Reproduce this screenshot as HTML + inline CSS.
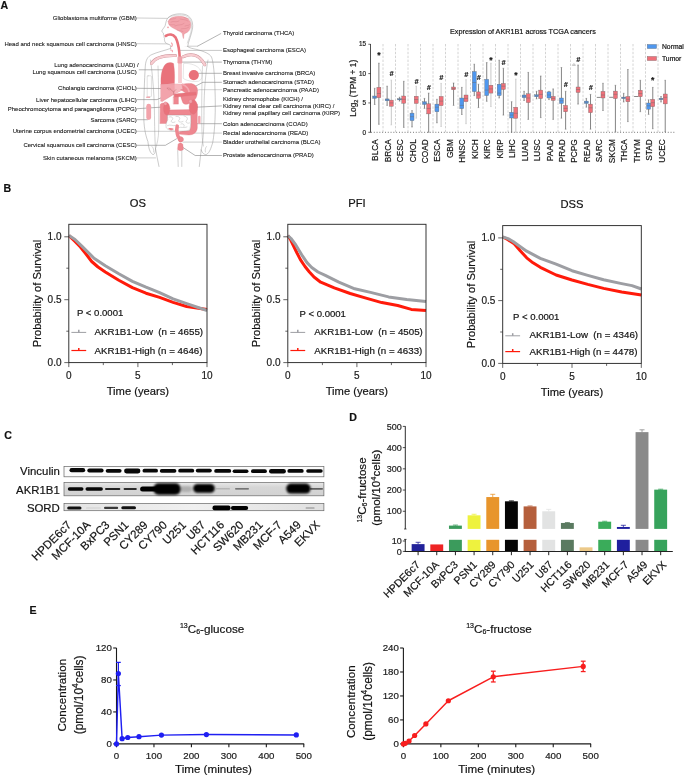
<!DOCTYPE html>
<html><head><meta charset="utf-8"><title>AKR1B1 figure</title>
<style>
html,body{margin:0;padding:0;background:#fff;}
body{width:685px;height:777px;overflow:hidden;}
svg{display:block;font-family:"Liberation Sans", sans-serif;will-change:transform;}
text{stroke:#1a1a1a;stroke-width:0.2px;stroke-linejoin:round;}
g.sm text{stroke-width:0.1px;}
</style></head><body>
<svg width="685" height="777" viewBox="0 0 685 777">
<defs>
<filter id="bl06" x="-20%" y="-50%" width="140%" height="200%"><feGaussianBlur stdDeviation="0.6"/></filter>
<filter id="bl09" x="-20%" y="-50%" width="140%" height="200%"><feGaussianBlur stdDeviation="0.9"/></filter>
<filter id="bl10" x="-20%" y="-50%" width="140%" height="200%"><feGaussianBlur stdDeviation="1.0"/></filter>
<filter id="bl12" x="-20%" y="-50%" width="140%" height="200%"><feGaussianBlur stdDeviation="1.2"/></filter>
<linearGradient id="sordg" x1="0" x2="1" y1="0" y2="0">
<stop offset="0" stop-color="#e4e4e4"/><stop offset="0.5" stop-color="#f0f0f0"/><stop offset="1" stop-color="#e0e0e0"/>
</linearGradient>
<linearGradient id="akrg" x1="0" x2="0" y1="0" y2="1">
<stop offset="0" stop-color="#e8e8e8"/><stop offset="0.35" stop-color="#d6d6d6"/><stop offset="1" stop-color="#d2d2d2"/>
</linearGradient>
</defs>
<rect width="685" height="777" fill="#fff"/>
<g font-weight="bold" fill="#111" font-size="10.6">
<text x="0.5" y="8.8">A</text>
<text x="3.6" y="191.9">B</text>
<text x="4.3" y="438.6">C</text>
<text x="349.2" y="420.6">D</text>
<text x="29.5" y="613.9">E</text>
</g>
<g stroke-linejoin="round" stroke-linecap="round">
<path d="M170.7,48.4 C165,50.5 157,52.2 152,54.5 C147.5,56.5 145.8,60 145.3,66 C144.5,80 143.6,100 143.8,118 C144,130 146.5,138 147.9,141.5 C148.6,147 149.2,152 152.5,154.4 C154.8,155.3 155.6,151 155.5,148.5 C156.5,155 158,161 159,166.5 L199.3,166.5 C200,160 200.8,154 201.2,149.7 C202,153 204.5,155 206.5,154.4 C209.5,153 211,148 212.7,142.7 C215,130 215.8,110 215,90 C214.6,75 213.5,62 211.5,57 C209.5,53.5 204,51.5 197,49.5 C192.5,48.5 189.5,48.2 187.6,46.5 Z" fill="#fff" stroke="none"/>
<polyline points="137.3,18.0 168.5,18.4" fill="none" stroke="#c8c8c8" stroke-width="0.9"/>
<polyline points="137.3,43.7 171.5,43.9" fill="none" stroke="#c8c8c8" stroke-width="0.9"/>
<polyline points="139.2,69.8 168.5,69.8" fill="none" stroke="#5a5a5a" stroke-width="0.45"/>
<polyline points="137.3,88.3 171.5,88.6" fill="none" stroke="#5a5a5a" stroke-width="0.45"/>
<polyline points="137.3,99.6 157.0,99.6 167.2,95.2" fill="none" stroke="#5a5a5a" stroke-width="0.45"/>
<polyline points="137.3,108.7 166.5,106.8" fill="none" stroke="#5a5a5a" stroke-width="0.45"/>
<polyline points="137.3,119.7 147.5,119.7" fill="none" stroke="#5a5a5a" stroke-width="0.45"/>
<polyline points="137.3,131.3 177.0,131.3" fill="none" stroke="#c8c8c8" stroke-width="0.9"/>
<polyline points="137.3,145.3 165.4,145.3 176.5,138.8" fill="none" stroke="#5a5a5a" stroke-width="0.45"/>
<polyline points="137.3,157.9 155.5,157.9" fill="none" stroke="#c8c8c8" stroke-width="0.9"/>
<polyline points="220.8,33.6 197.5,46.2" fill="none" stroke="#5a5a5a" stroke-width="0.45"/>
<polyline points="197.5,46.2 180.0,46.2" fill="none" stroke="#c8c8c8" stroke-width="0.9"/>
<polyline points="221.5,50.4 180.0,50.4" fill="none" stroke="#c8c8c8" stroke-width="1.0"/>
<polyline points="221.5,62.1 182.5,62.1" fill="none" stroke="#5a5a5a" stroke-width="0.45"/>
<polyline points="221.5,73.3 195.5,73.3" fill="none" stroke="#5a5a5a" stroke-width="0.45"/>
<polyline points="221.5,82.3 202.9,82.3 188.5,89.9" fill="none" stroke="#5a5a5a" stroke-width="0.45"/>
<polyline points="221.5,89.7 199.0,89.7 186.0,94.5" fill="none" stroke="#c8c8c8" stroke-width="0.8"/>
<polyline points="221.5,105.9 196.5,107.2" fill="none" stroke="#5a5a5a" stroke-width="0.45"/>
<polyline points="221.5,123.7 195.0,123.7" fill="none" stroke="#5a5a5a" stroke-width="0.45"/>
<polyline points="221.5,133.1 192.5,133.1" fill="none" stroke="#c8c8c8" stroke-width="0.9"/>
<polyline points="221.5,142.1 183.0,142.1" fill="none" stroke="#c8c8c8" stroke-width="0.9"/>
<polyline points="221.5,155.5 195.2,155.5 182.4,147.1" fill="none" stroke="#5a5a5a" stroke-width="0.45"/>
<path d="M170.7,48.4 C165,50.5 157,52.2 152,54.5 C147.5,56.5 145.8,60 145.3,66 C144.5,80 143.6,100 143.8,118 C144,130 146.5,138 147.9,141.5 C148.6,147 149.2,152 152.5,154.4 C154.8,155.3 155.6,151 155.5,148.5 C156.5,155 158,161 159,166.5" fill="none" stroke="#8a8a8a" stroke-width="0.45"/>
<path d="M199.3,166.5 C200,160 200.8,154 201.2,149.7 C202,153 204.5,155 206.5,154.4 C209.5,153 211,148 212.7,142.7 C215,130 215.8,110 215,90 C214.6,75 213.5,62 211.5,57 C209.5,53.5 204,51.5 197,49.5 C192.5,48.5 189.5,48.2 187.6,46.5" fill="none" stroke="#8a8a8a" stroke-width="0.45"/>
<path d="M150.5,60 C152,70 154,90 154.4,110 C154.6,125 154.8,140 155.5,148.5" fill="none" stroke="#8a8a8a" stroke-width="0.4"/>
<path d="M158,66 C158.5,80 158.8,100 158.7,130 C158.6,138 157,144 155.8,148" fill="none" stroke="#8a8a8a" stroke-width="0.35"/>
<path d="M208,60 C206,70 204,90 204,110 C204,125 203.6,140 201.2,149.7" fill="none" stroke="#8a8a8a" stroke-width="0.4"/>
<path d="M202.5,66 C202,80 201.5,100 201.8,125 C202,135 202.5,142 203.4,146" fill="none" stroke="#8a8a8a" stroke-width="0.35"/>
<path d="M152,146.5 C153.5,148 154,150 153.6,152" fill="none" stroke="#8a8a8a" stroke-width="0.35"/>
<path d="M206.5,146.5 C205.2,148 205,150 205.4,152" fill="none" stroke="#8a8a8a" stroke-width="0.35"/>
<path d="M177.7,150.5 L178.2,166.5 M181.8,150.5 L181.8,166.5" fill="none" stroke="#8a8a8a" stroke-width="0.4"/>
<path d="M187.6,46.5 C188.5,41 191.5,35 192.6,28 C193.3,21 190.5,15.5 184,14.2 C178,13.2 171,14.5 168,17.8 C166.2,20 165.8,23 165.2,25.5 C164.5,27.5 162.5,29 161.9,30.8 C161.8,31.8 162.6,32.5 163.4,33.2 C163.2,34.5 163.5,35.3 164.1,35.8 C163.8,36.8 164,37.6 164.5,38.2 C164.2,39.5 164.6,41.5 165.5,42.8 C167,44 169.3,44.2 170.3,45.2 L170.7,48.4" fill="#fff" stroke="#8a8a8a" stroke-width="0.45"/>
<path d="M168.5,17.5 C172,15.3 178,14.6 184,15.3 C189.5,16.5 191.8,21 191.6,27 C191.3,33 189,38 187.3,43" fill="none" stroke="#8a8a8a" stroke-width="0.3"/>
<path d="M168.2,21.5 C168.8,18.5 172.5,16.6 178,16.3 C184,16.1 189,18 190.6,22.5 C191.3,26.5 190.5,30 187.5,32.2 C185.5,33.2 184.5,33.5 184,34.5 L183.6,38.6 C183.1,38.8 182.7,36 182.3,33.5 C180,31 176,29.8 173,28 C170.5,26.5 168,25 168.2,21.5 Z" fill="#f2a3ab" stroke="#d98890" stroke-width="0.3"/>
<path d="M171,22 C174,20.5 176,23 179,21 M175,26 C178,24 181,26 184,23.5 M180,19 C183,20 185,19 188,21 M181,29 C184,28 186,29.5 189,27 M170,19.5 C172,18.5 174,19.5 176,18 M169.5,24.5 C171.5,25.5 173,24 175,25 M185,26 C187,25 188.5,26 190,24.5 M177,30 C179,31 181,30.5 183,31.5 M184,17.5 C185.5,18.5 187,17.8 189,19" fill="none" stroke="#d77e88" stroke-width="0.4"/>
<circle cx="168" cy="27.3" r="0.9" fill="#f2a3ab"/>
<path d="M151.5,63.5 C155,58 163,55.2 175.5,55.6" fill="none" stroke="#c98c93" stroke-width="3.0"/>
<path d="M151.5,63.5 C155,58 163,55.2 175.5,55.6" fill="none" stroke="#f8cdd1" stroke-width="2.3"/>
<path d="M183,56.8 C190,53.5 199,53.5 204.8,64.8" fill="none" stroke="#c98c93" stroke-width="3.0"/>
<path d="M183,56.8 C190,53.5 199,53.5 204.8,64.8" fill="none" stroke="#f8cdd1" stroke-width="2.3"/>
<path d="M184,63.5 C190,63 198,65 201,71 C203,76 202,80 198.5,81.2 C192,82 186,80.5 183.5,78.5 Z" fill="none" stroke="#b8b8b8" stroke-width="0.35"/>
<circle cx="193.8" cy="75.1" r="5.1" fill="#e9727b"/>
<path d="M165.8,35.9 C169,33.6 173,34.3 175.5,37.3 C177.5,41 178.6,46 179.3,52 L180,61" fill="none" stroke="#e9727b" stroke-width="2.6"/>
<rect x="178.1" y="58" width="3.8" height="25" fill="#f8cdd1"/>
<rect x="177.5" y="56.5" width="4.8" height="7" rx="1.2" fill="#f0a2aa"/>
<path d="M171.5,43 C172.5,44 172.8,45.5 171.5,46.5 M170.5,50 C172,49.8 173,50.8 172.3,51.8" fill="none" stroke="#f2a3ab" stroke-width="1.1"/>
<path d="M161,84.5 C160.5,76 161.8,69 165,64.8 C167.5,62.3 171,62 173.6,63.6 C174.6,70 174.8,77 174.4,83.5 Z" fill="#e9727b" stroke="#d9707a" stroke-width="0.3"/>
<path d="M160.8,84.6 C168,84 176,83.8 182.2,84.2 L182.8,89.6 C179.5,91.5 176,93.5 173.2,94.8 C169.5,97 165.5,99.5 162.4,101.4 L160.9,101.2 Z" fill="#f2a3ab" stroke="#d8707a" stroke-width="0.3"/>
<path d="M174.6,84 L182.2,84.2 L182.8,89.6 C180,91.2 177.5,92.5 174.8,93.8 Z" fill="#f6b9bf"/>
<path d="M167.4,88.2 C168.5,87.6 170,88 170.4,89.2 C169.6,90.3 168,90.2 167.4,88.2 Z" fill="#f2a3ab" stroke="#b05a62" stroke-width="0.25"/>
<path d="M170.4,89.2 L173.5,92 L176,89.5 M173.5,92 L173.8,95" fill="none" stroke="#9a4a52" stroke-width="0.3"/>
<path d="M182.2,84.3 C185.5,83.3 189,83.2 191.5,83.6 C194.5,84.3 196.5,86 197.3,88.5 C197.8,91.5 197.5,95 196,98 C194.5,100.8 191,103.2 187.2,104.2 C185,104.6 183.3,103.8 182.7,102.5 C181.8,100 181.2,98 180.6,96.2 L185.7,93.1 L180.6,89.6 L182.8,89.6 Z" fill="#ee8790" stroke="#d8707a" stroke-width="0.3"/>
<path d="M182.5,84.3 C186,86 188.5,88.5 189,91.5" fill="none" stroke="#f4a8b0" stroke-width="1.6"/>
<path d="M174,94.2 C180,93.2 188,92.6 195.9,92.2 L196,95 C188,95.6 181,96.5 174.2,97.4 Z" fill="#e9727b" stroke="#d8707a" stroke-width="0.3"/>
<rect x="173.6" y="96.8" width="4.8" height="7.3" fill="#ee8790" stroke="#d8707a" stroke-width="0.3"/>
<path d="M160.2,105 C160.5,103.5 162,102.8 164.5,103.2 L167.8,104.5 L167.8,123.5 L160.1,123.5 Z" fill="#ee8790" stroke="#d8707a" stroke-width="0.3"/>
<path d="M167.4,110 L192,109.6 L192,115.1 L167.4,115.1 Z" fill="#ee8790" stroke="#d8707a" stroke-width="0.3"/>
<path d="M190.8,104 L197.3,104 L197.3,128 C197,132 194,134.8 189,135 C185,135 181.5,134.5 179.1,134.1 L179.5,130.5 C183,131 187,131.3 189.5,130.6 C190.6,129.5 190.8,127 190.8,124 Z" fill="#ee8790" stroke="#d8707a" stroke-width="0.3"/>
<ellipse cx="166.7" cy="108.8" rx="3.1" ry="6.2" fill="#e9727b" stroke="#d8707a" stroke-width="0.35"/>
<ellipse cx="193.3" cy="107.0" rx="4.2" ry="7.2" fill="#e9727b" stroke="#d8707a" stroke-width="0.35"/>
<circle cx="165.5" cy="103.5" r="1.7" fill="#f2a3ab" stroke="#d8707a" stroke-width="0.3"/>
<circle cx="190.6" cy="101.4" r="1.8" fill="#f2a3ab" stroke="#d8707a" stroke-width="0.3"/>
<path d="M167.6,115.2 C175,115.2 184,115.2 190.6,115.4 C191,120 190.8,125 189.8,130 C186,131 181,131.4 176,131 C171,130.6 167.3,129.8 166.2,127.5 C165.5,125 166.6,122 167.6,120 Z" fill="#fff" stroke="#9a9a9a" stroke-width="0.35"/>
<path d="M169,117 C172,116 174,118.5 172,120 C170,121.5 172,123.5 175,122 M176,116.5 C179,116 181,118 179,120 C177.5,121.5 180,123 183,121.5 M184,116 C187,116.5 188.5,118.5 186.5,120.5 C185,122 187.5,124 189.5,123 M167.5,125.5 C170.5,124 173,126.5 175.5,125.5 M178.5,127.5 C181,126.5 184,128.5 187,127 M181,124 C183,123 185,125 184,126.5" fill="none" stroke="#9a9a9a" stroke-width="0.35"/>
<path d="M168.1,128.4 C170,127.8 172.5,128 174,129 C172.5,130.6 170,130.6 168.1,128.4 Z" fill="#ee8790"/>
<path d="M177.2,126.2 C176.4,129 176.8,132 177.5,134.5 C178,137 179.5,138.5 180.2,140.5" fill="none" stroke="#ee8790" stroke-width="3.6"/>
<path d="M180.5,136.5 C182.8,136.8 184,138.5 183.3,140.5 C182.5,142.3 180,142.5 178.8,141 Z" fill="#ee8790" stroke="#d8707a" stroke-width="0.3"/>
<path d="M178.2,144 C179.5,142.8 181.5,142.8 182.8,144.2 L183.4,149.5 C182,151 179,151 177.6,149.6 Z" fill="#ee8790" stroke="#d8707a" stroke-width="0.3"/>
<rect x="146.3" y="103.8" width="4.8" height="16.2" rx="2.4" fill="#f2a3ab"/>
<rect x="147.2" y="75.8" width="4.2" height="21" rx="0.8" fill="none" stroke="#a8a8a8" stroke-width="0.35"/>
<rect x="146.2" y="96.6" width="3.8" height="1.3" fill="#f2a3ab"/>
<rect x="198.1" y="115.8" width="2.4" height="8.2" rx="1.2" fill="#f2a3ab"/>
</g>
<g class="sm" font-size="6.0" fill="#1a1a1a">
<text x="136.8" y="19.9" text-anchor="end">Glioblastoma multiforme (GBM)</text>
<text x="136.8" y="45.6" text-anchor="end">Head and neck squamous cell carcinoma (HNSC)</text>
<text x="138.6" y="66.8" text-anchor="end">Lung adenocarcinoma (LUAD) /</text>
<text x="136.8" y="74.4" text-anchor="end">Lung squamous cell carcinoma (LUSC)</text>
<text x="136.8" y="90.2" text-anchor="end">Cholangio carcinoma (CHOL)</text>
<text x="136.8" y="101.5" text-anchor="end">Liver hepatocellular carcinoma (LIHC)</text>
<text x="136.8" y="110.6" text-anchor="end">Pheochromocytoma and paraganglioma (PCPG)</text>
<text x="136.8" y="121.6" text-anchor="end">Sarcoma (SARC)</text>
<text x="136.8" y="133.2" text-anchor="end">Uterine corpus endometrial carcinoma (UCEC)</text>
<text x="136.8" y="147.2" text-anchor="end">Cervical squamous cell carcinoma (CESC)</text>
<text x="136.8" y="159.8" text-anchor="end">Skin cutaneous melanoma (SKCM)</text>
<text x="223" y="35.3">Thyroid carcinoma (THCA)</text>
<text x="223" y="52.1">Esophageal carcinoma (ESCA)</text>
<text x="223" y="64.0">Thymoma (THYM)</text>
<text x="223" y="75.2">Breast invasive carcinoma (BRCA)</text>
<text x="223" y="84.2">Stomach adenocarcinoma (STAD)</text>
<text x="223" y="91.6">Pancreatic adenocarcinoma (PAAD)</text>
<text x="223" y="101.0">Kidney chromophobe (KICH) /</text>
<text x="223" y="107.8">Kidney renal clear cell carcinoma (KIRC) /</text>
<text x="223" y="115.4">Kidney renal papillary cell carcinoma (KIRP)</text>
<text x="223" y="125.6">Colon adenocarcinoma (COAD)</text>
<text x="223" y="135.0">Rectal adenocarcinoma (READ)</text>
<text x="223" y="144.0">Bladder urothelial carcinoma (BLCA)</text>
<text x="223" y="157.4">Prostate adenocarcinoma (PRAD)</text>
</g>
<g>
<text x="522.9" y="34.4" font-size="7.25" text-anchor="middle" fill="#111">Expression of AKR1B1 across TCGA cancers</text>
<line x1="383.00" y1="44" x2="383.00" y2="132.3" stroke="#b0b0b0" stroke-width="0.55" stroke-dasharray="2.4,1.5"/>
<line x1="395.50" y1="44" x2="395.50" y2="132.3" stroke="#b0b0b0" stroke-width="0.55" stroke-dasharray="2.4,1.5"/>
<line x1="408.00" y1="44" x2="408.00" y2="132.3" stroke="#b0b0b0" stroke-width="0.55" stroke-dasharray="2.4,1.5"/>
<line x1="420.50" y1="44" x2="420.50" y2="132.3" stroke="#b0b0b0" stroke-width="0.55" stroke-dasharray="2.4,1.5"/>
<line x1="433.00" y1="44" x2="433.00" y2="132.3" stroke="#b0b0b0" stroke-width="0.55" stroke-dasharray="2.4,1.5"/>
<line x1="445.50" y1="44" x2="445.50" y2="132.3" stroke="#b0b0b0" stroke-width="0.55" stroke-dasharray="2.4,1.5"/>
<line x1="458.00" y1="44" x2="458.00" y2="132.3" stroke="#b0b0b0" stroke-width="0.55" stroke-dasharray="2.4,1.5"/>
<line x1="470.50" y1="44" x2="470.50" y2="132.3" stroke="#b0b0b0" stroke-width="0.55" stroke-dasharray="2.4,1.5"/>
<line x1="483.00" y1="44" x2="483.00" y2="132.3" stroke="#b0b0b0" stroke-width="0.55" stroke-dasharray="2.4,1.5"/>
<line x1="495.50" y1="44" x2="495.50" y2="132.3" stroke="#b0b0b0" stroke-width="0.55" stroke-dasharray="2.4,1.5"/>
<line x1="508.00" y1="44" x2="508.00" y2="132.3" stroke="#b0b0b0" stroke-width="0.55" stroke-dasharray="2.4,1.5"/>
<line x1="520.50" y1="44" x2="520.50" y2="132.3" stroke="#b0b0b0" stroke-width="0.55" stroke-dasharray="2.4,1.5"/>
<line x1="533.00" y1="44" x2="533.00" y2="132.3" stroke="#b0b0b0" stroke-width="0.55" stroke-dasharray="2.4,1.5"/>
<line x1="545.50" y1="44" x2="545.50" y2="132.3" stroke="#b0b0b0" stroke-width="0.55" stroke-dasharray="2.4,1.5"/>
<line x1="558.00" y1="44" x2="558.00" y2="132.3" stroke="#b0b0b0" stroke-width="0.55" stroke-dasharray="2.4,1.5"/>
<line x1="570.50" y1="44" x2="570.50" y2="132.3" stroke="#b0b0b0" stroke-width="0.55" stroke-dasharray="2.4,1.5"/>
<line x1="583.00" y1="44" x2="583.00" y2="132.3" stroke="#b0b0b0" stroke-width="0.55" stroke-dasharray="2.4,1.5"/>
<line x1="595.50" y1="44" x2="595.50" y2="132.3" stroke="#b0b0b0" stroke-width="0.55" stroke-dasharray="2.4,1.5"/>
<line x1="608.00" y1="44" x2="608.00" y2="132.3" stroke="#b0b0b0" stroke-width="0.55" stroke-dasharray="2.4,1.5"/>
<line x1="620.50" y1="44" x2="620.50" y2="132.3" stroke="#b0b0b0" stroke-width="0.55" stroke-dasharray="2.4,1.5"/>
<line x1="633.00" y1="44" x2="633.00" y2="132.3" stroke="#b0b0b0" stroke-width="0.55" stroke-dasharray="2.4,1.5"/>
<line x1="645.50" y1="44" x2="645.50" y2="132.3" stroke="#b0b0b0" stroke-width="0.55" stroke-dasharray="2.4,1.5"/>
<line x1="658.00" y1="44" x2="658.00" y2="132.3" stroke="#b0b0b0" stroke-width="0.55" stroke-dasharray="2.4,1.5"/>
<line x1="371" y1="132.3" x2="675" y2="132.3" stroke="#444" stroke-width="0.8" stroke-dasharray="0.9,1.9"/>
<line x1="374.68" y1="88.30" x2="374.68" y2="104.50" stroke="#6e6e6e" stroke-width="0.85"/>
<line x1="373.88" y1="88.30" x2="375.48" y2="88.30" stroke="#6e6e6e" stroke-width="0.5"/>
<line x1="373.88" y1="104.50" x2="375.48" y2="104.50" stroke="#6e6e6e" stroke-width="0.5"/>
<rect x="372.68" y="96.00" width="4.00" height="2.40" fill="#4f97ee" stroke="#6b6b6b" stroke-width="0.35"/>
<line x1="372.68" y1="97.20" x2="376.68" y2="97.20" stroke="#6b6b6b" stroke-width="0.45"/>
<line x1="378.88" y1="63.20" x2="378.88" y2="124.30" stroke="#6e6e6e" stroke-width="0.85"/>
<line x1="378.07" y1="63.20" x2="379.68" y2="63.20" stroke="#6e6e6e" stroke-width="0.5"/>
<line x1="378.07" y1="124.30" x2="379.68" y2="124.30" stroke="#6e6e6e" stroke-width="0.5"/>
<rect x="376.88" y="87.30" width="4.00" height="10.40" fill="#ef7079" stroke="#6b6b6b" stroke-width="0.35"/>
<line x1="376.88" y1="93.50" x2="380.88" y2="93.50" stroke="#6b6b6b" stroke-width="0.45"/>
<text x="378.88" y="58.40" font-size="8.6" font-weight="bold" text-anchor="middle" fill="#111">*</text>
<line x1="387.12" y1="86.20" x2="387.12" y2="105.40" stroke="#6e6e6e" stroke-width="0.85"/>
<line x1="386.32" y1="86.20" x2="387.93" y2="86.20" stroke="#6e6e6e" stroke-width="0.5"/>
<line x1="386.32" y1="105.40" x2="387.93" y2="105.40" stroke="#6e6e6e" stroke-width="0.5"/>
<rect x="385.12" y="98.90" width="4.00" height="1.90" fill="#4f97ee" stroke="#6b6b6b" stroke-width="0.35"/>
<line x1="385.12" y1="99.80" x2="389.12" y2="99.80" stroke="#6b6b6b" stroke-width="0.45"/>
<line x1="391.32" y1="80.10" x2="391.32" y2="124.90" stroke="#bdbdbd" stroke-width="0.85"/>
<line x1="390.52" y1="80.10" x2="392.12" y2="80.10" stroke="#bdbdbd" stroke-width="0.5"/>
<line x1="390.52" y1="124.90" x2="392.12" y2="124.90" stroke="#bdbdbd" stroke-width="0.5"/>
<rect x="389.32" y="100.10" width="4.00" height="6.20" fill="#ef7079" stroke="#6b6b6b" stroke-width="0.35"/>
<line x1="389.32" y1="102.90" x2="393.32" y2="102.90" stroke="#6b6b6b" stroke-width="0.45"/>
<text x="391.52" y="75.80" font-size="7.2" font-weight="bold" font-style="italic" text-anchor="middle" fill="#111">#</text>
<line x1="399.57" y1="97.20" x2="399.57" y2="101.10" stroke="#6e6e6e" stroke-width="0.85"/>
<line x1="398.77" y1="97.20" x2="400.38" y2="97.20" stroke="#6e6e6e" stroke-width="0.5"/>
<line x1="398.77" y1="101.10" x2="400.38" y2="101.10" stroke="#6e6e6e" stroke-width="0.5"/>
<rect x="397.57" y="98.70" width="4.00" height="1.20" fill="#4f97ee" stroke="#6b6b6b" stroke-width="0.35"/>
<line x1="397.57" y1="99.30" x2="401.57" y2="99.30" stroke="#6b6b6b" stroke-width="0.45"/>
<line x1="403.77" y1="81.30" x2="403.77" y2="127.40" stroke="#6e6e6e" stroke-width="0.85"/>
<line x1="402.97" y1="81.30" x2="404.57" y2="81.30" stroke="#6e6e6e" stroke-width="0.5"/>
<line x1="402.97" y1="127.40" x2="404.57" y2="127.40" stroke="#6e6e6e" stroke-width="0.5"/>
<rect x="401.77" y="96.00" width="4.00" height="7.30" fill="#ef7079" stroke="#6b6b6b" stroke-width="0.35"/>
<line x1="401.77" y1="99.30" x2="405.77" y2="99.30" stroke="#6b6b6b" stroke-width="0.45"/>
<line x1="412.02" y1="110.60" x2="412.02" y2="127.00" stroke="#6e6e6e" stroke-width="0.85"/>
<line x1="411.22" y1="110.60" x2="412.82" y2="110.60" stroke="#6e6e6e" stroke-width="0.5"/>
<line x1="411.22" y1="127.00" x2="412.82" y2="127.00" stroke="#6e6e6e" stroke-width="0.5"/>
<rect x="410.02" y="113.10" width="4.00" height="7.50" fill="#4f97ee" stroke="#6b6b6b" stroke-width="0.35"/>
<line x1="410.02" y1="116.70" x2="414.02" y2="116.70" stroke="#6b6b6b" stroke-width="0.45"/>
<line x1="416.22" y1="86.20" x2="416.22" y2="118.20" stroke="#bdbdbd" stroke-width="0.85"/>
<line x1="415.42" y1="86.20" x2="417.02" y2="86.20" stroke="#bdbdbd" stroke-width="0.5"/>
<line x1="415.42" y1="118.20" x2="417.02" y2="118.20" stroke="#bdbdbd" stroke-width="0.5"/>
<rect x="414.22" y="96.20" width="4.00" height="7.30" fill="#ef7079" stroke="#6b6b6b" stroke-width="0.35"/>
<line x1="414.22" y1="99.50" x2="418.22" y2="99.50" stroke="#6b6b6b" stroke-width="0.45"/>
<text x="416.42" y="83.60" font-size="7.2" font-weight="bold" font-style="italic" text-anchor="middle" fill="#111">#</text>
<line x1="424.47" y1="98.40" x2="424.47" y2="108.40" stroke="#6e6e6e" stroke-width="0.85"/>
<line x1="423.67" y1="98.40" x2="425.27" y2="98.40" stroke="#6e6e6e" stroke-width="0.5"/>
<line x1="423.67" y1="108.40" x2="425.27" y2="108.40" stroke="#6e6e6e" stroke-width="0.5"/>
<rect x="422.47" y="101.70" width="4.00" height="2.80" fill="#4f97ee" stroke="#6b6b6b" stroke-width="0.35"/>
<line x1="422.47" y1="103.00" x2="426.47" y2="103.00" stroke="#6b6b6b" stroke-width="0.45"/>
<line x1="428.67" y1="93.10" x2="428.67" y2="132.30" stroke="#6e6e6e" stroke-width="0.85"/>
<line x1="427.87" y1="93.10" x2="429.47" y2="93.10" stroke="#6e6e6e" stroke-width="0.5"/>
<line x1="427.87" y1="132.30" x2="429.47" y2="132.30" stroke="#6e6e6e" stroke-width="0.5"/>
<rect x="426.67" y="103.80" width="4.00" height="10.10" fill="#ef7079" stroke="#6b6b6b" stroke-width="0.35"/>
<line x1="426.67" y1="108.40" x2="430.67" y2="108.40" stroke="#6b6b6b" stroke-width="0.45"/>
<text x="428.87" y="89.60" font-size="7.2" font-weight="bold" font-style="italic" text-anchor="middle" fill="#111">#</text>
<line x1="436.93" y1="99.30" x2="436.93" y2="122.80" stroke="#6e6e6e" stroke-width="0.85"/>
<line x1="436.12" y1="99.30" x2="437.73" y2="99.30" stroke="#6e6e6e" stroke-width="0.5"/>
<line x1="436.12" y1="122.80" x2="437.73" y2="122.80" stroke="#6e6e6e" stroke-width="0.5"/>
<rect x="434.93" y="104.10" width="4.00" height="7.70" fill="#4f97ee" stroke="#6b6b6b" stroke-width="0.35"/>
<line x1="434.93" y1="107.20" x2="438.93" y2="107.20" stroke="#6b6b6b" stroke-width="0.45"/>
<line x1="441.12" y1="83.40" x2="441.12" y2="126.50" stroke="#bdbdbd" stroke-width="0.85"/>
<line x1="440.32" y1="83.40" x2="441.93" y2="83.40" stroke="#bdbdbd" stroke-width="0.5"/>
<line x1="440.32" y1="126.50" x2="441.93" y2="126.50" stroke="#bdbdbd" stroke-width="0.5"/>
<rect x="439.12" y="96.40" width="4.00" height="9.30" fill="#ef7079" stroke="#6b6b6b" stroke-width="0.35"/>
<line x1="439.12" y1="101.10" x2="443.12" y2="101.10" stroke="#6b6b6b" stroke-width="0.45"/>
<text x="441.32" y="79.90" font-size="7.2" font-weight="bold" font-style="italic" text-anchor="middle" fill="#111">#</text>
<line x1="453.57" y1="83.00" x2="453.57" y2="105.40" stroke="#6e6e6e" stroke-width="0.85"/>
<line x1="452.77" y1="83.00" x2="454.38" y2="83.00" stroke="#6e6e6e" stroke-width="0.5"/>
<line x1="452.77" y1="105.40" x2="454.38" y2="105.40" stroke="#6e6e6e" stroke-width="0.5"/>
<rect x="451.57" y="87.00" width="4.00" height="2.80" fill="#ef7079" stroke="#6b6b6b" stroke-width="0.35"/>
<line x1="451.57" y1="88.50" x2="455.57" y2="88.50" stroke="#6b6b6b" stroke-width="0.45"/>
<line x1="461.82" y1="87.40" x2="461.82" y2="114.50" stroke="#6e6e6e" stroke-width="0.85"/>
<line x1="461.02" y1="87.40" x2="462.62" y2="87.40" stroke="#6e6e6e" stroke-width="0.5"/>
<line x1="461.02" y1="114.50" x2="462.62" y2="114.50" stroke="#6e6e6e" stroke-width="0.5"/>
<rect x="459.82" y="98.00" width="4.00" height="10.70" fill="#4f97ee" stroke="#6b6b6b" stroke-width="0.35"/>
<line x1="459.82" y1="105.40" x2="463.82" y2="105.40" stroke="#6b6b6b" stroke-width="0.45"/>
<line x1="466.02" y1="79.70" x2="466.02" y2="123.70" stroke="#bdbdbd" stroke-width="0.85"/>
<line x1="465.22" y1="79.70" x2="466.82" y2="79.70" stroke="#bdbdbd" stroke-width="0.5"/>
<line x1="465.22" y1="123.70" x2="466.82" y2="123.70" stroke="#bdbdbd" stroke-width="0.5"/>
<rect x="464.02" y="95.00" width="4.00" height="6.70" fill="#ef7079" stroke="#6b6b6b" stroke-width="0.35"/>
<line x1="464.02" y1="98.40" x2="468.02" y2="98.40" stroke="#6b6b6b" stroke-width="0.45"/>
<text x="466.22" y="77.40" font-size="7.2" font-weight="bold" font-style="italic" text-anchor="middle" fill="#111">#</text>
<line x1="474.27" y1="64.20" x2="474.27" y2="95.60" stroke="#6e6e6e" stroke-width="0.85"/>
<line x1="473.47" y1="64.20" x2="475.07" y2="64.20" stroke="#6e6e6e" stroke-width="0.5"/>
<line x1="473.47" y1="95.60" x2="475.07" y2="95.60" stroke="#6e6e6e" stroke-width="0.5"/>
<rect x="472.27" y="71.50" width="4.00" height="20.10" fill="#4f97ee" stroke="#6b6b6b" stroke-width="0.35"/>
<line x1="472.27" y1="82.50" x2="476.27" y2="82.50" stroke="#6b6b6b" stroke-width="0.45"/>
<line x1="478.47" y1="84.20" x2="478.47" y2="107.60" stroke="#6e6e6e" stroke-width="0.85"/>
<line x1="477.67" y1="84.20" x2="479.27" y2="84.20" stroke="#6e6e6e" stroke-width="0.5"/>
<line x1="477.67" y1="107.60" x2="479.27" y2="107.60" stroke="#6e6e6e" stroke-width="0.5"/>
<rect x="476.47" y="91.90" width="4.00" height="6.50" fill="#ef7079" stroke="#6b6b6b" stroke-width="0.35"/>
<line x1="476.47" y1="95.00" x2="480.47" y2="95.00" stroke="#6b6b6b" stroke-width="0.45"/>
<text x="478.67" y="79.90" font-size="7.2" font-weight="bold" font-style="italic" text-anchor="middle" fill="#111">#</text>
<line x1="486.72" y1="62.60" x2="486.72" y2="101.30" stroke="#6e6e6e" stroke-width="0.85"/>
<line x1="485.92" y1="62.60" x2="487.52" y2="62.60" stroke="#6e6e6e" stroke-width="0.5"/>
<line x1="485.92" y1="101.30" x2="487.52" y2="101.30" stroke="#6e6e6e" stroke-width="0.5"/>
<rect x="484.72" y="79.30" width="4.00" height="16.30" fill="#4f97ee" stroke="#6b6b6b" stroke-width="0.35"/>
<line x1="484.72" y1="90.10" x2="488.72" y2="90.10" stroke="#6b6b6b" stroke-width="0.45"/>
<line x1="490.92" y1="63.20" x2="490.92" y2="106.60" stroke="#bdbdbd" stroke-width="0.85"/>
<line x1="490.12" y1="63.20" x2="491.72" y2="63.20" stroke="#bdbdbd" stroke-width="0.5"/>
<line x1="490.12" y1="106.60" x2="491.72" y2="106.60" stroke="#bdbdbd" stroke-width="0.5"/>
<rect x="488.92" y="85.20" width="4.00" height="7.90" fill="#ef7079" stroke="#6b6b6b" stroke-width="0.35"/>
<line x1="488.92" y1="88.90" x2="492.92" y2="88.90" stroke="#6b6b6b" stroke-width="0.45"/>
<text x="490.92" y="62.90" font-size="8.6" font-weight="bold" text-anchor="middle" fill="#111">*</text>
<line x1="499.18" y1="60.20" x2="499.18" y2="98.00" stroke="#6e6e6e" stroke-width="0.85"/>
<line x1="498.38" y1="60.20" x2="499.98" y2="60.20" stroke="#6e6e6e" stroke-width="0.5"/>
<line x1="498.38" y1="98.00" x2="499.98" y2="98.00" stroke="#6e6e6e" stroke-width="0.5"/>
<rect x="497.18" y="84.20" width="4.00" height="11.40" fill="#4f97ee" stroke="#6b6b6b" stroke-width="0.35"/>
<line x1="497.18" y1="93.10" x2="501.18" y2="93.10" stroke="#6b6b6b" stroke-width="0.45"/>
<line x1="503.38" y1="68.30" x2="503.38" y2="115.10" stroke="#6e6e6e" stroke-width="0.85"/>
<line x1="502.57" y1="68.30" x2="504.18" y2="68.30" stroke="#6e6e6e" stroke-width="0.5"/>
<line x1="502.57" y1="115.10" x2="504.18" y2="115.10" stroke="#6e6e6e" stroke-width="0.5"/>
<rect x="501.38" y="83.40" width="4.00" height="6.10" fill="#ef7079" stroke="#6b6b6b" stroke-width="0.35"/>
<line x1="501.38" y1="86.20" x2="505.38" y2="86.20" stroke="#6b6b6b" stroke-width="0.45"/>
<text x="503.57" y="64.60" font-size="7.2" font-weight="bold" font-style="italic" text-anchor="middle" fill="#111">#</text>
<line x1="511.62" y1="101.70" x2="511.62" y2="132.20" stroke="#6e6e6e" stroke-width="0.85"/>
<line x1="510.82" y1="101.70" x2="512.42" y2="101.70" stroke="#6e6e6e" stroke-width="0.5"/>
<line x1="510.82" y1="132.20" x2="512.42" y2="132.20" stroke="#6e6e6e" stroke-width="0.5"/>
<rect x="509.62" y="112.30" width="4.00" height="5.70" fill="#4f97ee" stroke="#6b6b6b" stroke-width="0.35"/>
<line x1="509.62" y1="115.10" x2="513.62" y2="115.10" stroke="#6b6b6b" stroke-width="0.45"/>
<line x1="515.82" y1="79.10" x2="515.82" y2="132.20" stroke="#bdbdbd" stroke-width="0.85"/>
<line x1="515.02" y1="79.10" x2="516.62" y2="79.10" stroke="#bdbdbd" stroke-width="0.5"/>
<line x1="515.02" y1="132.20" x2="516.62" y2="132.20" stroke="#bdbdbd" stroke-width="0.5"/>
<rect x="513.82" y="107.20" width="4.00" height="11.20" fill="#ef7079" stroke="#6b6b6b" stroke-width="0.35"/>
<line x1="513.82" y1="113.30" x2="517.82" y2="113.30" stroke="#6b6b6b" stroke-width="0.45"/>
<text x="515.82" y="78.00" font-size="8.6" font-weight="bold" text-anchor="middle" fill="#111">*</text>
<line x1="524.08" y1="91.30" x2="524.08" y2="100.50" stroke="#6e6e6e" stroke-width="0.85"/>
<line x1="523.28" y1="91.30" x2="524.88" y2="91.30" stroke="#6e6e6e" stroke-width="0.5"/>
<line x1="523.28" y1="100.50" x2="524.88" y2="100.50" stroke="#6e6e6e" stroke-width="0.5"/>
<rect x="522.08" y="95.00" width="4.00" height="2.70" fill="#4f97ee" stroke="#6b6b6b" stroke-width="0.35"/>
<line x1="522.08" y1="96.20" x2="526.08" y2="96.20" stroke="#6b6b6b" stroke-width="0.45"/>
<line x1="528.27" y1="72.40" x2="528.27" y2="119.40" stroke="#6e6e6e" stroke-width="0.85"/>
<line x1="527.48" y1="72.40" x2="529.07" y2="72.40" stroke="#6e6e6e" stroke-width="0.5"/>
<line x1="527.48" y1="119.40" x2="529.07" y2="119.40" stroke="#6e6e6e" stroke-width="0.5"/>
<rect x="526.27" y="93.80" width="4.00" height="8.80" fill="#ef7079" stroke="#6b6b6b" stroke-width="0.35"/>
<line x1="526.27" y1="98.00" x2="530.27" y2="98.00" stroke="#6b6b6b" stroke-width="0.45"/>
<line x1="536.53" y1="91.30" x2="536.53" y2="98.90" stroke="#6e6e6e" stroke-width="0.85"/>
<line x1="535.73" y1="91.30" x2="537.33" y2="91.30" stroke="#6e6e6e" stroke-width="0.5"/>
<line x1="535.73" y1="98.90" x2="537.33" y2="98.90" stroke="#6e6e6e" stroke-width="0.5"/>
<rect x="534.53" y="94.70" width="4.00" height="2.10" fill="#4f97ee" stroke="#6b6b6b" stroke-width="0.35"/>
<line x1="534.53" y1="95.70" x2="538.53" y2="95.70" stroke="#6b6b6b" stroke-width="0.45"/>
<line x1="540.73" y1="76.00" x2="540.73" y2="117.60" stroke="#6e6e6e" stroke-width="0.85"/>
<line x1="539.93" y1="76.00" x2="541.52" y2="76.00" stroke="#6e6e6e" stroke-width="0.5"/>
<line x1="539.93" y1="117.60" x2="541.52" y2="117.60" stroke="#6e6e6e" stroke-width="0.5"/>
<rect x="538.73" y="90.10" width="4.00" height="8.50" fill="#ef7079" stroke="#6b6b6b" stroke-width="0.35"/>
<line x1="538.73" y1="94.40" x2="542.73" y2="94.40" stroke="#6b6b6b" stroke-width="0.45"/>
<line x1="548.98" y1="91.30" x2="548.98" y2="99.60" stroke="#6e6e6e" stroke-width="0.85"/>
<line x1="548.18" y1="91.30" x2="549.77" y2="91.30" stroke="#6e6e6e" stroke-width="0.5"/>
<line x1="548.18" y1="99.60" x2="549.77" y2="99.60" stroke="#6e6e6e" stroke-width="0.5"/>
<rect x="546.98" y="91.90" width="4.00" height="6.10" fill="#4f97ee" stroke="#6b6b6b" stroke-width="0.35"/>
<line x1="546.98" y1="95.00" x2="550.98" y2="95.00" stroke="#6b6b6b" stroke-width="0.45"/>
<line x1="553.17" y1="88.90" x2="553.17" y2="119.40" stroke="#6e6e6e" stroke-width="0.85"/>
<line x1="552.38" y1="88.90" x2="553.97" y2="88.90" stroke="#6e6e6e" stroke-width="0.5"/>
<line x1="552.38" y1="119.40" x2="553.97" y2="119.40" stroke="#6e6e6e" stroke-width="0.5"/>
<rect x="551.17" y="96.40" width="4.00" height="4.10" fill="#ef7079" stroke="#6b6b6b" stroke-width="0.35"/>
<line x1="551.17" y1="98.40" x2="555.17" y2="98.40" stroke="#6b6b6b" stroke-width="0.45"/>
<line x1="561.43" y1="67.50" x2="561.43" y2="118.20" stroke="#6e6e6e" stroke-width="0.85"/>
<line x1="560.63" y1="67.50" x2="562.23" y2="67.50" stroke="#6e6e6e" stroke-width="0.5"/>
<line x1="560.63" y1="118.20" x2="562.23" y2="118.20" stroke="#6e6e6e" stroke-width="0.5"/>
<rect x="559.43" y="98.00" width="4.00" height="5.50" fill="#4f97ee" stroke="#6b6b6b" stroke-width="0.35"/>
<line x1="559.43" y1="100.80" x2="563.43" y2="100.80" stroke="#6b6b6b" stroke-width="0.45"/>
<line x1="565.62" y1="91.30" x2="565.62" y2="129.20" stroke="#6e6e6e" stroke-width="0.85"/>
<line x1="564.83" y1="91.30" x2="566.42" y2="91.30" stroke="#6e6e6e" stroke-width="0.5"/>
<line x1="564.83" y1="129.20" x2="566.42" y2="129.20" stroke="#6e6e6e" stroke-width="0.5"/>
<rect x="563.62" y="105.40" width="4.00" height="6.40" fill="#ef7079" stroke="#6b6b6b" stroke-width="0.35"/>
<line x1="563.62" y1="108.40" x2="567.62" y2="108.40" stroke="#6b6b6b" stroke-width="0.45"/>
<text x="565.83" y="86.60" font-size="7.2" font-weight="bold" font-style="italic" text-anchor="middle" fill="#111">#</text>
<path d="M573.88,63.3 L572.67,65.2 L575.08,65.2 Z" fill="none" stroke="#999" stroke-width="0.4"/>
<line x1="571.88" y1="65.2" x2="575.88" y2="65.2" stroke="#999" stroke-width="0.5"/>
<line x1="578.07" y1="65.00" x2="578.07" y2="104.10" stroke="#6e6e6e" stroke-width="0.85"/>
<line x1="577.27" y1="65.00" x2="578.87" y2="65.00" stroke="#6e6e6e" stroke-width="0.5"/>
<line x1="577.27" y1="104.10" x2="578.87" y2="104.10" stroke="#6e6e6e" stroke-width="0.5"/>
<rect x="576.07" y="87.00" width="4.00" height="5.50" fill="#ef7079" stroke="#6b6b6b" stroke-width="0.35"/>
<line x1="576.07" y1="89.50" x2="580.07" y2="89.50" stroke="#6b6b6b" stroke-width="0.45"/>
<text x="578.27" y="61.50" font-size="7.2" font-weight="bold" font-style="italic" text-anchor="middle" fill="#111">#</text>
<line x1="586.33" y1="98.40" x2="586.33" y2="107.20" stroke="#6e6e6e" stroke-width="0.85"/>
<line x1="585.53" y1="98.40" x2="587.12" y2="98.40" stroke="#6e6e6e" stroke-width="0.5"/>
<line x1="585.53" y1="107.20" x2="587.12" y2="107.20" stroke="#6e6e6e" stroke-width="0.5"/>
<rect x="584.33" y="101.10" width="4.00" height="2.40" fill="#4f97ee" stroke="#6b6b6b" stroke-width="0.35"/>
<line x1="584.33" y1="102.30" x2="588.33" y2="102.30" stroke="#6b6b6b" stroke-width="0.45"/>
<line x1="590.52" y1="94.40" x2="590.52" y2="129.20" stroke="#6e6e6e" stroke-width="0.85"/>
<line x1="589.73" y1="94.40" x2="591.32" y2="94.40" stroke="#6e6e6e" stroke-width="0.5"/>
<line x1="589.73" y1="129.20" x2="591.32" y2="129.20" stroke="#6e6e6e" stroke-width="0.5"/>
<rect x="588.52" y="104.10" width="4.00" height="8.60" fill="#ef7079" stroke="#6b6b6b" stroke-width="0.35"/>
<line x1="588.52" y1="107.80" x2="592.52" y2="107.80" stroke="#6b6b6b" stroke-width="0.45"/>
<text x="590.73" y="89.60" font-size="7.2" font-weight="bold" font-style="italic" text-anchor="middle" fill="#111">#</text>
<line x1="596.78" y1="97.40" x2="600.78" y2="97.40" stroke="#555" stroke-width="0.7"/>
<line x1="602.98" y1="83.30" x2="602.98" y2="110.50" stroke="#6e6e6e" stroke-width="0.85"/>
<line x1="602.18" y1="83.30" x2="603.77" y2="83.30" stroke="#6e6e6e" stroke-width="0.5"/>
<line x1="602.18" y1="110.50" x2="603.77" y2="110.50" stroke="#6e6e6e" stroke-width="0.5"/>
<rect x="600.98" y="91.40" width="4.00" height="6.60" fill="#ef7079" stroke="#6b6b6b" stroke-width="0.35"/>
<line x1="600.98" y1="95.00" x2="604.98" y2="95.00" stroke="#6b6b6b" stroke-width="0.45"/>
<line x1="609.23" y1="97.30" x2="613.23" y2="97.30" stroke="#555" stroke-width="0.7"/>
<line x1="615.42" y1="85.30" x2="615.42" y2="131.80" stroke="#6e6e6e" stroke-width="0.85"/>
<line x1="614.62" y1="85.30" x2="616.22" y2="85.30" stroke="#6e6e6e" stroke-width="0.5"/>
<line x1="614.62" y1="131.80" x2="616.22" y2="131.80" stroke="#6e6e6e" stroke-width="0.5"/>
<rect x="613.42" y="91.10" width="4.00" height="7.50" fill="#ef7079" stroke="#6b6b6b" stroke-width="0.35"/>
<line x1="613.42" y1="94.30" x2="617.42" y2="94.30" stroke="#6b6b6b" stroke-width="0.45"/>
<line x1="623.68" y1="93.30" x2="623.68" y2="102.00" stroke="#6e6e6e" stroke-width="0.85"/>
<line x1="622.88" y1="93.30" x2="624.48" y2="93.30" stroke="#6e6e6e" stroke-width="0.5"/>
<line x1="622.88" y1="102.00" x2="624.48" y2="102.00" stroke="#6e6e6e" stroke-width="0.5"/>
<rect x="621.68" y="97.10" width="4.00" height="1.50" fill="#4f97ee" stroke="#6b6b6b" stroke-width="0.35"/>
<line x1="621.68" y1="97.80" x2="625.68" y2="97.80" stroke="#6b6b6b" stroke-width="0.45"/>
<line x1="627.88" y1="69.50" x2="627.88" y2="121.60" stroke="#6e6e6e" stroke-width="0.85"/>
<line x1="627.08" y1="69.50" x2="628.67" y2="69.50" stroke="#6e6e6e" stroke-width="0.5"/>
<line x1="627.08" y1="121.60" x2="628.67" y2="121.60" stroke="#6e6e6e" stroke-width="0.5"/>
<rect x="625.88" y="96.50" width="4.00" height="5.30" fill="#ef7079" stroke="#6b6b6b" stroke-width="0.35"/>
<line x1="625.88" y1="99.30" x2="629.88" y2="99.30" stroke="#6b6b6b" stroke-width="0.45"/>
<line x1="634.12" y1="96.50" x2="638.12" y2="96.50" stroke="#555" stroke-width="0.7"/>
<line x1="640.32" y1="80.30" x2="640.32" y2="111.70" stroke="#6e6e6e" stroke-width="0.85"/>
<line x1="639.52" y1="80.30" x2="641.12" y2="80.30" stroke="#6e6e6e" stroke-width="0.5"/>
<line x1="639.52" y1="111.70" x2="641.12" y2="111.70" stroke="#6e6e6e" stroke-width="0.5"/>
<rect x="638.32" y="90.20" width="4.00" height="6.60" fill="#ef7079" stroke="#6b6b6b" stroke-width="0.35"/>
<line x1="638.32" y1="93.60" x2="642.32" y2="93.60" stroke="#6b6b6b" stroke-width="0.45"/>
<line x1="648.58" y1="99.80" x2="648.58" y2="114.40" stroke="#6e6e6e" stroke-width="0.85"/>
<line x1="647.78" y1="99.80" x2="649.38" y2="99.80" stroke="#6e6e6e" stroke-width="0.5"/>
<line x1="647.78" y1="114.40" x2="649.38" y2="114.40" stroke="#6e6e6e" stroke-width="0.5"/>
<rect x="646.58" y="103.00" width="4.00" height="6.20" fill="#4f97ee" stroke="#6b6b6b" stroke-width="0.35"/>
<line x1="646.58" y1="105.80" x2="650.58" y2="105.80" stroke="#6b6b6b" stroke-width="0.45"/>
<line x1="652.77" y1="87.40" x2="652.77" y2="128.70" stroke="#6e6e6e" stroke-width="0.85"/>
<line x1="651.98" y1="87.40" x2="653.57" y2="87.40" stroke="#6e6e6e" stroke-width="0.5"/>
<line x1="651.98" y1="128.70" x2="653.57" y2="128.70" stroke="#6e6e6e" stroke-width="0.5"/>
<rect x="650.77" y="99.30" width="4.00" height="7.40" fill="#ef7079" stroke="#6b6b6b" stroke-width="0.35"/>
<line x1="650.77" y1="102.70" x2="654.77" y2="102.70" stroke="#6b6b6b" stroke-width="0.45"/>
<text x="652.77" y="83.30" font-size="8.6" font-weight="bold" text-anchor="middle" fill="#111">*</text>
<line x1="661.03" y1="96.50" x2="661.03" y2="102.00" stroke="#6e6e6e" stroke-width="0.85"/>
<line x1="660.23" y1="96.50" x2="661.83" y2="96.50" stroke="#6e6e6e" stroke-width="0.5"/>
<line x1="660.23" y1="102.00" x2="661.83" y2="102.00" stroke="#6e6e6e" stroke-width="0.5"/>
<rect x="659.03" y="98.30" width="4.00" height="1.30" fill="#4f97ee" stroke="#6b6b6b" stroke-width="0.35"/>
<line x1="659.03" y1="99.00" x2="663.03" y2="99.00" stroke="#6b6b6b" stroke-width="0.45"/>
<line x1="665.23" y1="80.30" x2="665.23" y2="131.80" stroke="#6e6e6e" stroke-width="0.85"/>
<line x1="664.43" y1="80.30" x2="666.02" y2="80.30" stroke="#6e6e6e" stroke-width="0.5"/>
<line x1="664.43" y1="131.80" x2="666.02" y2="131.80" stroke="#6e6e6e" stroke-width="0.5"/>
<rect x="663.23" y="94.00" width="4.00" height="9.90" fill="#ef7079" stroke="#6b6b6b" stroke-width="0.35"/>
<line x1="663.23" y1="97.30" x2="667.23" y2="97.30" stroke="#6b6b6b" stroke-width="0.45"/>
<line x1="370.5" y1="44" x2="370.5" y2="132.6" stroke="#222" stroke-width="0.8"/>
<line x1="368.3" y1="132.30" x2="370.5" y2="132.30" stroke="#222" stroke-width="0.7"/>
<text x="366.0" y="134.50" font-size="6.3" text-anchor="end" fill="#222">0</text>
<line x1="368.3" y1="102.95" x2="370.5" y2="102.95" stroke="#222" stroke-width="0.7"/>
<text x="366.0" y="105.15" font-size="6.3" text-anchor="end" fill="#222">5</text>
<line x1="368.3" y1="73.60" x2="370.5" y2="73.60" stroke="#222" stroke-width="0.7"/>
<text x="366.0" y="75.80" font-size="6.3" text-anchor="end" fill="#222">10</text>
<line x1="368.3" y1="44.25" x2="370.5" y2="44.25" stroke="#222" stroke-width="0.7"/>
<text x="366.0" y="46.45" font-size="6.3" text-anchor="end" fill="#222">15</text>
<text transform="translate(356.4,88.2) rotate(-90)" font-size="8.4" text-anchor="middle" fill="#111">Log<tspan font-size="5.6" dy="1.4">2</tspan><tspan dy="-1.4"> (TPM + 1)</tspan></text>
<text transform="translate(378.23,139.2) rotate(-90)" font-size="8.3" text-anchor="end" fill="#111">BLCA</text>
<text transform="translate(390.68,139.2) rotate(-90)" font-size="8.3" text-anchor="end" fill="#111">BRCA</text>
<text transform="translate(403.12,139.2) rotate(-90)" font-size="8.3" text-anchor="end" fill="#111">CESC</text>
<text transform="translate(415.57,139.2) rotate(-90)" font-size="8.3" text-anchor="end" fill="#111">CHOL</text>
<text transform="translate(428.02,139.2) rotate(-90)" font-size="8.3" text-anchor="end" fill="#111">COAD</text>
<text transform="translate(440.48,139.2) rotate(-90)" font-size="8.3" text-anchor="end" fill="#111">ESCA</text>
<text transform="translate(452.93,139.2) rotate(-90)" font-size="8.3" text-anchor="end" fill="#111">GBM</text>
<text transform="translate(465.38,139.2) rotate(-90)" font-size="8.3" text-anchor="end" fill="#111">HNSC</text>
<text transform="translate(477.82,139.2) rotate(-90)" font-size="8.3" text-anchor="end" fill="#111">KICH</text>
<text transform="translate(490.27,139.2) rotate(-90)" font-size="8.3" text-anchor="end" fill="#111">KIRC</text>
<text transform="translate(502.73,139.2) rotate(-90)" font-size="8.3" text-anchor="end" fill="#111">KIRP</text>
<text transform="translate(515.17,139.2) rotate(-90)" font-size="8.3" text-anchor="end" fill="#111">LIHC</text>
<text transform="translate(527.62,139.2) rotate(-90)" font-size="8.3" text-anchor="end" fill="#111">LUAD</text>
<text transform="translate(540.08,139.2) rotate(-90)" font-size="8.3" text-anchor="end" fill="#111">LUSC</text>
<text transform="translate(552.52,139.2) rotate(-90)" font-size="8.3" text-anchor="end" fill="#111">PAAD</text>
<text transform="translate(564.98,139.2) rotate(-90)" font-size="8.3" text-anchor="end" fill="#111">PRAD</text>
<text transform="translate(577.42,139.2) rotate(-90)" font-size="8.3" text-anchor="end" fill="#111">PCPG</text>
<text transform="translate(589.88,139.2) rotate(-90)" font-size="8.3" text-anchor="end" fill="#111">READ</text>
<text transform="translate(602.33,139.2) rotate(-90)" font-size="8.3" text-anchor="end" fill="#111">SARC</text>
<text transform="translate(614.77,139.2) rotate(-90)" font-size="8.3" text-anchor="end" fill="#111">SKCM</text>
<text transform="translate(627.23,139.2) rotate(-90)" font-size="8.3" text-anchor="end" fill="#111">THCA</text>
<text transform="translate(639.67,139.2) rotate(-90)" font-size="8.3" text-anchor="end" fill="#111">THYM</text>
<text transform="translate(652.12,139.2) rotate(-90)" font-size="8.3" text-anchor="end" fill="#111">STAD</text>
<text transform="translate(664.58,139.2) rotate(-90)" font-size="8.3" text-anchor="end" fill="#111">UCEC</text>
<rect x="647.2" y="44.4" width="9.4" height="4.2" fill="#4f97ee" stroke="#6b6b6b" stroke-width="0.35"/>
<rect x="647.2" y="56.4" width="9.4" height="4.2" fill="#ef7079" stroke="#6b6b6b" stroke-width="0.35"/>
<text x="662" y="48.9" font-size="6.75" fill="#111">Normal</text>
<text x="662" y="60.8" font-size="6.75" fill="#111">Tumor</text>
</g>
<g>
<text x="137.9" y="206.8" font-size="11.2" text-anchor="middle" fill="#111">OS</text>
<polyline points="69.0,235.6 74.0,240.5 80.4,247.0 86.0,254.0 91.7,261.5 98.0,267.0 105.3,272.0 118.8,280.3 132.4,287.6 146.0,293.2 159.6,297.4 173.1,302.4 186.7,306.5 207.0,309.6" fill="none" stroke="#ff1a0a" stroke-width="3.0" stroke-linejoin="round"/>
<polyline points="69.0,235.6 75.0,239.5 82.6,246.8 94.0,258.2 105.3,265.8 118.8,273.8 132.4,281.4 146.0,287.2 159.6,292.6 173.1,298.8 186.7,303.6 207.0,310.5" fill="none" stroke="#9d9ea3" stroke-width="3.0" stroke-linejoin="round"/>
<rect x="68.8" y="224.3" width="138.2" height="138.3" fill="none" stroke="#2a2a2a" stroke-width="0.95"/>
<line x1="64.3" y1="362.6" x2="68.8" y2="362.6" stroke="#333" stroke-width="0.75"/>
<text x="61.5" y="366.1" font-size="10" text-anchor="end" fill="#222">0.0</text>
<line x1="66.3" y1="331.2" x2="68.8" y2="331.2" stroke="#333" stroke-width="0.75"/>
<line x1="64.3" y1="299.7" x2="68.8" y2="299.7" stroke="#333" stroke-width="0.75"/>
<text x="61.5" y="303.2" font-size="10" text-anchor="end" fill="#222">0.5</text>
<line x1="66.3" y1="268.2" x2="68.8" y2="268.2" stroke="#333" stroke-width="0.75"/>
<line x1="64.3" y1="236.8" x2="68.8" y2="236.8" stroke="#333" stroke-width="0.75"/>
<text x="61.5" y="240.3" font-size="10" text-anchor="end" fill="#222">1.0</text>
<line x1="68.8" y1="362.6" x2="68.8" y2="367.1" stroke="#333" stroke-width="0.75"/>
<text x="68.8" y="378.9" font-size="10" text-anchor="middle" fill="#222">0</text>
<line x1="103.3" y1="362.6" x2="103.3" y2="365.1" stroke="#333" stroke-width="0.75"/>
<line x1="137.9" y1="362.6" x2="137.9" y2="367.1" stroke="#333" stroke-width="0.75"/>
<text x="137.9" y="378.9" font-size="10" text-anchor="middle" fill="#222">5</text>
<line x1="172.4" y1="362.6" x2="172.4" y2="365.1" stroke="#333" stroke-width="0.75"/>
<line x1="207.0" y1="362.6" x2="207.0" y2="367.1" stroke="#333" stroke-width="0.75"/>
<text x="207.0" y="378.9" font-size="10" text-anchor="middle" fill="#222">10</text>
<text x="137.9" y="394.8" font-size="11.2" text-anchor="middle" fill="#111">Time (years)</text>
<text transform="translate(40.6,293.5) rotate(-90)" font-size="11.2" text-anchor="middle" fill="#111">Probability of Survival</text>
<text x="77.0" y="316.4" font-size="9.55" fill="#111">P &lt; 0.0001</text>
<line x1="71.4" y1="332.4" x2="86.2" y2="332.4" stroke="#9d9ea3" stroke-width="1.0"/>
<line x1="78.8" y1="329.8" x2="78.8" y2="332.4" stroke="#9d9ea3" stroke-width="1.5"/>
<text x="94.4" y="335.1" font-size="9.75" fill="#111" style="white-space:pre">AKR1B1-Low  (n = 4655)</text>
<line x1="71.4" y1="350.5" x2="86.2" y2="350.5" stroke="#ff1a0a" stroke-width="1.2"/>
<line x1="78.8" y1="347.9" x2="78.8" y2="350.5" stroke="#ff1a0a" stroke-width="1.5"/>
<text x="94.4" y="353.6" font-size="9.75" fill="#111" style="white-space:pre">AKR1B1-High (n = 4646)</text>
<text x="356.9" y="206.8" font-size="11.2" text-anchor="middle" fill="#111">PFI</text>
<polyline points="287.9,235.6 290.5,239.5 293.6,246.0 297.0,253.0 300.4,259.6 305.0,266.5 309.4,272.0 314.0,277.0 320.7,282.2 334.3,287.9 350.2,293.5 366.0,298.1 381.8,302.6 397.7,305.5 411.3,309.4 426.0,310.6" fill="none" stroke="#ff1a0a" stroke-width="3.0" stroke-linejoin="round"/>
<polyline points="287.9,235.6 291.0,238.5 295.8,244.9 302.6,256.2 307.0,262.6 311.7,267.5 318.0,272.0 325.3,275.4 338.8,282.2 354.7,288.8 370.5,292.4 388.6,296.9 406.7,299.4 426.0,301.6" fill="none" stroke="#9d9ea3" stroke-width="3.0" stroke-linejoin="round"/>
<rect x="287.8" y="224.3" width="138.2" height="138.3" fill="none" stroke="#2a2a2a" stroke-width="0.95"/>
<line x1="283.3" y1="362.6" x2="287.8" y2="362.6" stroke="#333" stroke-width="0.75"/>
<text x="280.5" y="366.1" font-size="10" text-anchor="end" fill="#222">0.0</text>
<line x1="285.3" y1="331.2" x2="287.8" y2="331.2" stroke="#333" stroke-width="0.75"/>
<line x1="283.3" y1="299.7" x2="287.8" y2="299.7" stroke="#333" stroke-width="0.75"/>
<text x="280.5" y="303.2" font-size="10" text-anchor="end" fill="#222">0.5</text>
<line x1="285.3" y1="268.2" x2="287.8" y2="268.2" stroke="#333" stroke-width="0.75"/>
<line x1="283.3" y1="236.8" x2="287.8" y2="236.8" stroke="#333" stroke-width="0.75"/>
<text x="280.5" y="240.3" font-size="10" text-anchor="end" fill="#222">1.0</text>
<line x1="287.8" y1="362.6" x2="287.8" y2="367.1" stroke="#333" stroke-width="0.75"/>
<text x="287.8" y="378.9" font-size="10" text-anchor="middle" fill="#222">0</text>
<line x1="322.4" y1="362.6" x2="322.4" y2="365.1" stroke="#333" stroke-width="0.75"/>
<line x1="356.9" y1="362.6" x2="356.9" y2="367.1" stroke="#333" stroke-width="0.75"/>
<text x="356.9" y="378.9" font-size="10" text-anchor="middle" fill="#222">5</text>
<line x1="391.4" y1="362.6" x2="391.4" y2="365.1" stroke="#333" stroke-width="0.75"/>
<line x1="426.0" y1="362.6" x2="426.0" y2="367.1" stroke="#333" stroke-width="0.75"/>
<text x="426.0" y="378.9" font-size="10" text-anchor="middle" fill="#222">10</text>
<text x="356.9" y="394.8" font-size="11.2" text-anchor="middle" fill="#111">Time (years)</text>
<text transform="translate(259.6,293.5) rotate(-90)" font-size="11.2" text-anchor="middle" fill="#111">Probability of Survival</text>
<text x="299.6" y="317.3" font-size="9.55" fill="#111">P &lt; 0.0001</text>
<line x1="290.4" y1="332.4" x2="305.2" y2="332.4" stroke="#9d9ea3" stroke-width="1.0"/>
<line x1="297.8" y1="329.8" x2="297.8" y2="332.4" stroke="#9d9ea3" stroke-width="1.5"/>
<text x="314.2" y="335.1" font-size="9.75" fill="#111" style="white-space:pre">AKR1B1-Low  (n = 4505)</text>
<line x1="290.4" y1="350.5" x2="305.2" y2="350.5" stroke="#ff1a0a" stroke-width="1.2"/>
<line x1="297.8" y1="347.9" x2="297.8" y2="350.5" stroke="#ff1a0a" stroke-width="1.5"/>
<text x="314.2" y="353.6" font-size="9.75" fill="#111" style="white-space:pre">AKR1B1-High (n = 4633)</text>
<text x="572.0" y="208.1" font-size="11.2" text-anchor="middle" fill="#111">DSS</text>
<polyline points="502.9,237.0 508.0,239.8 514.2,243.8 520.0,250.5 526.7,257.8 533.0,262.8 540.3,267.3 556.1,275.0 572.0,280.0 587.8,284.4 603.6,288.4 621.7,292.0 641.4,295.1" fill="none" stroke="#ff1a0a" stroke-width="3.0" stroke-linejoin="round"/>
<polyline points="502.9,237.0 508.0,238.6 513.1,241.5 520.0,246.5 526.7,251.2 540.3,258.3 556.1,264.1 572.0,270.7 587.8,275.4 603.6,279.8 621.7,283.6 632.0,285.6 641.4,289.0" fill="none" stroke="#9d9ea3" stroke-width="3.0" stroke-linejoin="round"/>
<rect x="502.7" y="225.6" width="138.6" height="137.8" fill="none" stroke="#2a2a2a" stroke-width="0.95"/>
<line x1="498.2" y1="363.4" x2="502.7" y2="363.4" stroke="#333" stroke-width="0.75"/>
<text x="495.4" y="366.9" font-size="10" text-anchor="end" fill="#222">0.0</text>
<line x1="500.2" y1="332.0" x2="502.7" y2="332.0" stroke="#333" stroke-width="0.75"/>
<line x1="498.2" y1="300.6" x2="502.7" y2="300.6" stroke="#333" stroke-width="0.75"/>
<text x="495.4" y="304.1" font-size="10" text-anchor="end" fill="#222">0.5</text>
<line x1="500.2" y1="269.3" x2="502.7" y2="269.3" stroke="#333" stroke-width="0.75"/>
<line x1="498.2" y1="237.9" x2="502.7" y2="237.9" stroke="#333" stroke-width="0.75"/>
<text x="495.4" y="241.4" font-size="10" text-anchor="end" fill="#222">1.0</text>
<line x1="502.7" y1="363.4" x2="502.7" y2="367.9" stroke="#333" stroke-width="0.75"/>
<text x="502.7" y="379.7" font-size="10" text-anchor="middle" fill="#222">0</text>
<line x1="537.4" y1="363.4" x2="537.4" y2="365.9" stroke="#333" stroke-width="0.75"/>
<line x1="572.0" y1="363.4" x2="572.0" y2="367.9" stroke="#333" stroke-width="0.75"/>
<text x="572.0" y="379.7" font-size="10" text-anchor="middle" fill="#222">5</text>
<line x1="606.6" y1="363.4" x2="606.6" y2="365.9" stroke="#333" stroke-width="0.75"/>
<line x1="641.3" y1="363.4" x2="641.3" y2="367.9" stroke="#333" stroke-width="0.75"/>
<text x="641.3" y="379.7" font-size="10" text-anchor="middle" fill="#222">10</text>
<text x="572.0" y="395.6" font-size="11.2" text-anchor="middle" fill="#111">Time (years)</text>
<text transform="translate(474.5,294.5) rotate(-90)" font-size="11.2" text-anchor="middle" fill="#111">Probability of Survival</text>
<text x="513.1" y="319.8" font-size="9.55" fill="#111">P &lt; 0.0001</text>
<line x1="505.3" y1="335.8" x2="520.1" y2="335.8" stroke="#9d9ea3" stroke-width="1.0"/>
<line x1="512.7" y1="333.2" x2="512.7" y2="335.8" stroke="#9d9ea3" stroke-width="1.5"/>
<text x="529.4" y="338.4" font-size="9.75" fill="#111" style="white-space:pre">AKR1B1-Low  (n = 4346)</text>
<line x1="505.3" y1="351.6" x2="520.1" y2="351.6" stroke="#ff1a0a" stroke-width="1.2"/>
<line x1="512.7" y1="349.0" x2="512.7" y2="351.6" stroke="#ff1a0a" stroke-width="1.5"/>
<text x="529.4" y="354.8" font-size="9.75" fill="#111" style="white-space:pre">AKR1B1-High (n = 4478)</text>
</g>
<g>
<rect x="64.0" y="466.6" width="259.9" height="10.2" fill="#fbfbfb" stroke="#666" stroke-width="0.7"/>
<rect x="69.5" y="468.1" width="15.7" height="4.2" rx="2.1" fill="#000" fill-opacity="0.97" filter="url(#bl06)"/>
<rect x="87.3" y="468.4" width="16.3" height="4.0" rx="2.0" fill="#000" fill-opacity="0.97" filter="url(#bl06)"/>
<rect x="105.7" y="468.9" width="15.9" height="3.8" rx="1.9" fill="#000" fill-opacity="0.97" filter="url(#bl06)"/>
<rect x="124.1" y="468.6" width="16.3" height="4.8" rx="2.4" fill="#000" fill-opacity="0.97" filter="url(#bl06)"/>
<rect x="142.5" y="468.8" width="15.5" height="3.8" rx="1.9" fill="#000" fill-opacity="0.97" filter="url(#bl06)"/>
<rect x="159.8" y="469.1" width="16.6" height="3.6" rx="1.8" fill="#000" fill-opacity="0.97" filter="url(#bl06)"/>
<rect x="178.2" y="468.8" width="16.0" height="3.8" rx="1.9" fill="#000" fill-opacity="0.97" filter="url(#bl06)"/>
<rect x="195.8" y="468.7" width="16.0" height="3.8" rx="1.9" fill="#000" fill-opacity="0.97" filter="url(#bl06)"/>
<rect x="214.2" y="469.0" width="17.0" height="3.8" rx="1.9" fill="#000" fill-opacity="0.97" filter="url(#bl06)"/>
<rect x="232.6" y="469.5" width="15.9" height="3.6" rx="1.8" fill="#000" fill-opacity="0.97" filter="url(#bl06)"/>
<rect x="251.0" y="469.3" width="15.9" height="3.8" rx="1.9" fill="#000" fill-opacity="0.97" filter="url(#bl06)"/>
<rect x="269.0" y="468.9" width="16.9" height="4.5" rx="2.2" fill="#000" fill-opacity="0.97" filter="url(#bl06)"/>
<rect x="287.4" y="469.0" width="16.3" height="3.8" rx="1.9" fill="#000" fill-opacity="0.97" filter="url(#bl06)"/>
<rect x="306.2" y="469.3" width="16.5" height="3.4" rx="1.7" fill="#000" fill-opacity="0.97" filter="url(#bl06)"/>
<rect x="64.0" y="482.5" width="259.9" height="13.3" fill="url(#akrg)" stroke="#666" stroke-width="0.7"/>
<rect x="67.8" y="487.3" width="15.7" height="3.4" rx="1.7" fill="#000" fill-opacity="0.97" filter="url(#bl06)"/>
<rect x="85.5" y="487.3" width="17.4" height="3.4" rx="1.7" fill="#000" fill-opacity="0.97" filter="url(#bl06)"/>
<rect x="105.0" y="488.1" width="15.3" height="2.0" rx="1.0" fill="#000" fill-opacity="0.85" filter="url(#bl06)"/>
<rect x="123.6" y="488.1" width="13.2" height="1.8" rx="0.9" fill="#000" fill-opacity="0.80" filter="url(#bl06)"/>
<rect x="140.1" y="486.5" width="17.9" height="5.0" rx="2.5" fill="#000" fill-opacity="1.00" filter="url(#bl06)"/>
<rect x="153.6" y="483.3" width="26.9" height="11.4" rx="5.0" fill="#000" fill-opacity="1.00" filter="url(#bl10)"/>
<rect x="180.0" y="486.0" width="12.0" height="6.0" rx="3.0" fill="#000" fill-opacity="0.18" filter="url(#bl12)"/>
<rect x="193.2" y="484.1" width="21.6" height="8.6" rx="4.3" fill="#000" fill-opacity="1.00" filter="url(#bl09)"/>
<rect x="216.0" y="488.5" width="14.0" height="0.8" rx="0.4" fill="#000" fill-opacity="0.30" filter="url(#bl06)"/>
<rect x="235.0" y="488.2" width="14.0" height="1.3" rx="0.7" fill="#000" fill-opacity="0.60" filter="url(#bl06)"/>
<rect x="286.2" y="483.6" width="24.4" height="10.0" rx="5.0" fill="#000" fill-opacity="1.00" filter="url(#bl10)"/>
<rect x="310.0" y="488.1" width="13.0" height="1.6" rx="0.8" fill="#000" fill-opacity="0.55" filter="url(#bl06)"/>
<rect x="64.0" y="503.5" width="259.9" height="7.2" fill="url(#sordg)" stroke="#666" stroke-width="0.7"/>
<rect x="67.2" y="506.4" width="14.3" height="3.0" rx="1.5" fill="#000" fill-opacity="0.92" filter="url(#bl06)"/>
<rect x="86.0" y="507.4" width="15.0" height="1.0" rx="0.5" fill="#000" fill-opacity="0.10" filter="url(#bl06)"/>
<rect x="104.0" y="506.8" width="14.2" height="2.3" rx="1.1" fill="#000" fill-opacity="0.75" filter="url(#bl06)"/>
<rect x="121.3" y="506.3" width="14.7" height="3.0" rx="1.5" fill="#000" fill-opacity="0.92" filter="url(#bl06)"/>
<rect x="212.5" y="505.6" width="18.0" height="4.6" rx="2.0" fill="#000" fill-opacity="1.00" filter="url(#bl06)"/>
<rect x="230.9" y="505.9" width="17.3" height="4.0" rx="2.0" fill="#000" fill-opacity="1.00" filter="url(#bl06)"/>
<rect x="305.5" y="507.6" width="9.2" height="0.9" rx="0.5" fill="#000" fill-opacity="0.40" filter="url(#bl06)"/>
<text x="59.8" y="474.6" font-size="11.4" text-anchor="end" fill="#111">Vinculin</text>
<text x="59.8" y="493.6" font-size="11.4" text-anchor="end" fill="#111">AKR1B1</text>
<text x="59.8" y="511.6" font-size="11.4" text-anchor="end" fill="#111">SORD</text>
<text transform="translate(72.0,525.6) rotate(-45)" font-size="11.5" text-anchor="end" fill="#111">HPDE6c7</text>
<text transform="translate(91.1,525.6) rotate(-45)" font-size="11.5" text-anchor="end" fill="#111">MCF-10A</text>
<text transform="translate(110.3,525.6) rotate(-45)" font-size="11.5" text-anchor="end" fill="#111">BxPC3</text>
<text transform="translate(129.4,525.6) rotate(-45)" font-size="11.5" text-anchor="end" fill="#111">PSN1</text>
<text transform="translate(148.6,525.6) rotate(-45)" font-size="11.5" text-anchor="end" fill="#111">CY289</text>
<text transform="translate(167.7,525.6) rotate(-45)" font-size="11.5" text-anchor="end" fill="#111">CY790</text>
<text transform="translate(186.8,525.6) rotate(-45)" font-size="11.5" text-anchor="end" fill="#111">U251</text>
<text transform="translate(206.0,525.6) rotate(-45)" font-size="11.5" text-anchor="end" fill="#111">U87</text>
<text transform="translate(225.1,525.6) rotate(-45)" font-size="11.5" text-anchor="end" fill="#111">HCT116</text>
<text transform="translate(244.3,525.6) rotate(-45)" font-size="11.5" text-anchor="end" fill="#111">SW620</text>
<text transform="translate(263.4,525.6) rotate(-45)" font-size="11.5" text-anchor="end" fill="#111">MB231</text>
<text transform="translate(282.5,525.6) rotate(-45)" font-size="11.5" text-anchor="end" fill="#111">MCF-7</text>
<text transform="translate(301.7,525.6) rotate(-45)" font-size="11.5" text-anchor="end" fill="#111">A549</text>
<text transform="translate(320.8,525.6) rotate(-45)" font-size="11.5" text-anchor="end" fill="#111">EKVX</text>
</g>
<g>
<rect x="411.65" y="544.12" width="12.90" height="7.28" fill="#22229a"/>
<line x1="418.10" y1="542.30" x2="418.10" y2="544.12" stroke="#22229a" stroke-width="0.8"/>
<line x1="415.60" y1="542.30" x2="420.60" y2="542.30" stroke="#22229a" stroke-width="0.8"/>
<rect x="430.31" y="544.43" width="12.90" height="6.97" fill="#ee2424"/>
<rect x="448.97" y="525.60" width="12.90" height="3.30" fill="#3b9b5c"/>
<line x1="455.42" y1="525.07" x2="455.42" y2="525.60" stroke="#3b9b5c" stroke-width="0.8"/>
<line x1="452.92" y1="525.07" x2="457.92" y2="525.07" stroke="#3b9b5c" stroke-width="0.8"/>
<rect x="448.97" y="539.80" width="12.90" height="11.60" fill="#3b9b5c"/>
<rect x="467.63" y="515.31" width="12.90" height="13.59" fill="#eef23e"/>
<line x1="474.08" y1="514.25" x2="474.08" y2="515.31" stroke="#eef23e" stroke-width="0.8"/>
<line x1="471.58" y1="514.25" x2="476.58" y2="514.25" stroke="#eef23e" stroke-width="0.8"/>
<rect x="467.63" y="539.80" width="12.90" height="11.60" fill="#eef23e"/>
<rect x="486.29" y="497.06" width="12.90" height="31.84" fill="#e8952c"/>
<line x1="492.74" y1="494.30" x2="492.74" y2="497.06" stroke="#e8952c" stroke-width="0.8"/>
<line x1="490.24" y1="494.30" x2="495.24" y2="494.30" stroke="#e8952c" stroke-width="0.8"/>
<rect x="486.29" y="539.80" width="12.90" height="11.60" fill="#e8952c"/>
<rect x="504.95" y="501.31" width="12.90" height="27.59" fill="#050505"/>
<line x1="511.40" y1="500.88" x2="511.40" y2="501.31" stroke="#050505" stroke-width="0.8"/>
<line x1="508.90" y1="500.88" x2="513.90" y2="500.88" stroke="#050505" stroke-width="0.8"/>
<rect x="504.95" y="539.80" width="12.90" height="11.60" fill="#050505"/>
<rect x="523.61" y="506.40" width="12.90" height="22.50" fill="#b55f3c"/>
<line x1="530.06" y1="505.97" x2="530.06" y2="506.40" stroke="#b55f3c" stroke-width="0.8"/>
<line x1="527.56" y1="505.97" x2="532.56" y2="505.97" stroke="#b55f3c" stroke-width="0.8"/>
<rect x="523.61" y="539.80" width="12.90" height="11.60" fill="#b55f3c"/>
<rect x="542.27" y="511.28" width="12.90" height="17.62" fill="#e2e3e3"/>
<line x1="548.72" y1="509.37" x2="548.72" y2="511.28" stroke="#e2e3e3" stroke-width="0.8"/>
<line x1="546.22" y1="509.37" x2="551.22" y2="509.37" stroke="#e2e3e3" stroke-width="0.8"/>
<rect x="542.27" y="539.80" width="12.90" height="11.60" fill="#e2e3e3"/>
<rect x="560.93" y="522.95" width="12.90" height="5.95" fill="#5a7a60"/>
<line x1="567.38" y1="522.53" x2="567.38" y2="522.95" stroke="#5a7a60" stroke-width="0.8"/>
<line x1="564.88" y1="522.53" x2="569.88" y2="522.53" stroke="#5a7a60" stroke-width="0.8"/>
<rect x="560.93" y="539.80" width="12.90" height="11.60" fill="#5a7a60"/>
<rect x="579.59" y="547.34" width="12.90" height="4.06" fill="#ecc989"/>
<rect x="598.25" y="521.68" width="12.90" height="7.22" fill="#3aac5a"/>
<line x1="604.70" y1="521.25" x2="604.70" y2="521.68" stroke="#3aac5a" stroke-width="0.8"/>
<line x1="602.20" y1="521.25" x2="607.20" y2="521.25" stroke="#3aac5a" stroke-width="0.8"/>
<rect x="598.25" y="539.80" width="12.90" height="11.60" fill="#3aac5a"/>
<rect x="616.91" y="526.98" width="12.90" height="1.92" fill="#1f1f9e"/>
<line x1="623.36" y1="525.29" x2="623.36" y2="526.98" stroke="#1f1f9e" stroke-width="0.8"/>
<line x1="620.86" y1="525.29" x2="625.86" y2="525.29" stroke="#1f1f9e" stroke-width="0.8"/>
<rect x="616.91" y="539.80" width="12.90" height="11.60" fill="#1f1f9e"/>
<rect x="635.57" y="432.13" width="12.90" height="96.77" fill="#8a8a8a"/>
<line x1="642.02" y1="429.80" x2="642.02" y2="432.13" stroke="#8a8a8a" stroke-width="0.8"/>
<line x1="639.52" y1="429.80" x2="644.52" y2="429.80" stroke="#8a8a8a" stroke-width="0.8"/>
<rect x="635.57" y="539.80" width="12.90" height="11.60" fill="#8a8a8a"/>
<rect x="654.23" y="489.64" width="12.90" height="39.26" fill="#37a35c"/>
<line x1="660.68" y1="489.21" x2="660.68" y2="489.64" stroke="#37a35c" stroke-width="0.8"/>
<line x1="658.18" y1="489.21" x2="663.18" y2="489.21" stroke="#37a35c" stroke-width="0.8"/>
<rect x="654.23" y="539.80" width="12.90" height="11.60" fill="#37a35c"/>
<line x1="405.3" y1="426.2" x2="405.3" y2="529.0" stroke="#222" stroke-width="0.95"/>
<line x1="404.1" y1="529.0" x2="406.5" y2="529.0" stroke="#222" stroke-width="0.8"/>
<line x1="405.3" y1="539.2" x2="405.3" y2="551.8" stroke="#222" stroke-width="0.95"/>
<line x1="404.1" y1="539.4" x2="406.5" y2="539.4" stroke="#222" stroke-width="0.8"/>
<line x1="404.6" y1="551.4" x2="672.8" y2="551.4" stroke="#222" stroke-width="1.05"/>
<line x1="402.8" y1="511.28" x2="405.3" y2="511.28" stroke="#222" stroke-width="0.8"/>
<text x="401.8" y="514.48" font-size="9" text-anchor="end" fill="#222">100</text>
<line x1="402.8" y1="490.06" x2="405.3" y2="490.06" stroke="#222" stroke-width="0.8"/>
<text x="401.8" y="493.26" font-size="9" text-anchor="end" fill="#222">200</text>
<line x1="402.8" y1="468.84" x2="405.3" y2="468.84" stroke="#222" stroke-width="0.8"/>
<text x="401.8" y="472.04" font-size="9" text-anchor="end" fill="#222">300</text>
<line x1="402.8" y1="447.62" x2="405.3" y2="447.62" stroke="#222" stroke-width="0.8"/>
<text x="401.8" y="450.82" font-size="9" text-anchor="end" fill="#222">400</text>
<line x1="402.8" y1="426.40" x2="405.3" y2="426.40" stroke="#222" stroke-width="0.8"/>
<text x="401.8" y="429.60" font-size="9" text-anchor="end" fill="#222">500</text>
<line x1="402.8" y1="551.40" x2="405.3" y2="551.40" stroke="#222" stroke-width="0.8"/>
<text x="401.8" y="554.80" font-size="9" text-anchor="end" fill="#222">0</text>
<line x1="402.8" y1="541.00" x2="405.3" y2="541.00" stroke="#222" stroke-width="0.8"/>
<text x="401.8" y="544.40" font-size="9" text-anchor="end" fill="#222">10</text>
<line x1="418.10" y1="551.4" x2="418.10" y2="555.2" stroke="#222" stroke-width="1.0"/>
<text transform="translate(420.7,565.4) rotate(-45)" font-size="10.6" text-anchor="end" fill="#111">HPDE6c7</text>
<line x1="436.76" y1="551.4" x2="436.76" y2="555.2" stroke="#222" stroke-width="1.0"/>
<text transform="translate(439.7,565.4) rotate(-45)" font-size="10.6" text-anchor="end" fill="#111">MCF-10A</text>
<line x1="455.42" y1="551.4" x2="455.42" y2="555.2" stroke="#222" stroke-width="1.0"/>
<text transform="translate(458.6,565.4) rotate(-45)" font-size="10.6" text-anchor="end" fill="#111">BxPC3</text>
<line x1="474.08" y1="551.4" x2="474.08" y2="555.2" stroke="#222" stroke-width="1.0"/>
<text transform="translate(477.6,565.4) rotate(-45)" font-size="10.6" text-anchor="end" fill="#111">PSN1</text>
<line x1="492.74" y1="551.4" x2="492.74" y2="555.2" stroke="#222" stroke-width="1.0"/>
<text transform="translate(496.5,565.4) rotate(-45)" font-size="10.6" text-anchor="end" fill="#111">CY289</text>
<line x1="511.40" y1="551.4" x2="511.40" y2="555.2" stroke="#222" stroke-width="1.0"/>
<text transform="translate(515.5,565.4) rotate(-45)" font-size="10.6" text-anchor="end" fill="#111">CY790</text>
<line x1="530.06" y1="551.4" x2="530.06" y2="555.2" stroke="#222" stroke-width="1.0"/>
<text transform="translate(534.4,565.4) rotate(-45)" font-size="10.6" text-anchor="end" fill="#111">U251</text>
<line x1="548.72" y1="551.4" x2="548.72" y2="555.2" stroke="#222" stroke-width="1.0"/>
<text transform="translate(553.4,565.4) rotate(-45)" font-size="10.6" text-anchor="end" fill="#111">U87</text>
<line x1="567.38" y1="551.4" x2="567.38" y2="555.2" stroke="#222" stroke-width="1.0"/>
<text transform="translate(572.3,565.4) rotate(-45)" font-size="10.6" text-anchor="end" fill="#111">HCT116</text>
<line x1="586.04" y1="551.4" x2="586.04" y2="555.2" stroke="#222" stroke-width="1.0"/>
<text transform="translate(591.2,565.4) rotate(-45)" font-size="10.6" text-anchor="end" fill="#111">SW620</text>
<line x1="604.70" y1="551.4" x2="604.70" y2="555.2" stroke="#222" stroke-width="1.0"/>
<text transform="translate(610.2,565.4) rotate(-45)" font-size="10.6" text-anchor="end" fill="#111">MB231</text>
<line x1="623.36" y1="551.4" x2="623.36" y2="555.2" stroke="#222" stroke-width="1.0"/>
<text transform="translate(629.2,565.4) rotate(-45)" font-size="10.6" text-anchor="end" fill="#111">MCF-7</text>
<line x1="642.02" y1="551.4" x2="642.02" y2="555.2" stroke="#222" stroke-width="1.0"/>
<text transform="translate(648.1,565.4) rotate(-45)" font-size="10.6" text-anchor="end" fill="#111">A549</text>
<line x1="660.68" y1="551.4" x2="660.68" y2="555.2" stroke="#222" stroke-width="1.0"/>
<text transform="translate(667.1,565.4) rotate(-45)" font-size="10.6" text-anchor="end" fill="#111">EKVX</text>
<text transform="translate(365.8,490.0) rotate(-90)" font-size="11.6" text-anchor="middle" fill="#111"><tspan font-size="7" dy="-4">13</tspan><tspan dy="4">C</tspan><tspan font-size="7" dy="1.6">6</tspan><tspan dy="-1.6">-fructose</tspan></text>
<text transform="translate(380.2,487.7) rotate(-90)" font-size="11.6" text-anchor="middle" fill="#111">(pmol/10<tspan font-size="7.4" dy="-4.2">4</tspan><tspan dy="4.2">cells)</tspan></text>
</g>
<g>
<line x1="116.50" y1="648.00" x2="116.50" y2="744.30" stroke="#1a1a1a" stroke-width="1.1"/>
<line x1="116.10" y1="743.90" x2="304.20" y2="743.90" stroke="#1a1a1a" stroke-width="1.1"/>
<line x1="113.20" y1="743.90" x2="116.50" y2="743.90" stroke="#1a1a1a" stroke-width="1.1"/>
<text x="111.90" y="747.20" font-size="9.7" text-anchor="end" fill="#222">0</text>
<line x1="113.20" y1="711.93" x2="116.50" y2="711.93" stroke="#1a1a1a" stroke-width="1.1"/>
<text x="111.90" y="715.23" font-size="9.7" text-anchor="end" fill="#222">40</text>
<line x1="113.20" y1="679.97" x2="116.50" y2="679.97" stroke="#1a1a1a" stroke-width="1.1"/>
<text x="111.90" y="683.27" font-size="9.7" text-anchor="end" fill="#222">80</text>
<line x1="113.20" y1="648.00" x2="116.50" y2="648.00" stroke="#1a1a1a" stroke-width="1.1"/>
<text x="111.90" y="651.30" font-size="9.7" text-anchor="end" fill="#222">120</text>
<line x1="116.50" y1="743.90" x2="116.50" y2="747.30" stroke="#1a1a1a" stroke-width="1.1"/>
<text x="116.50" y="758.90" font-size="9.7" text-anchor="middle" fill="#222">0</text>
<line x1="153.96" y1="743.90" x2="153.96" y2="747.30" stroke="#1a1a1a" stroke-width="1.1"/>
<text x="153.96" y="758.90" font-size="9.7" text-anchor="middle" fill="#222">100</text>
<line x1="191.42" y1="743.90" x2="191.42" y2="747.30" stroke="#1a1a1a" stroke-width="1.1"/>
<text x="191.42" y="758.90" font-size="9.7" text-anchor="middle" fill="#222">200</text>
<line x1="228.88" y1="743.90" x2="228.88" y2="747.30" stroke="#1a1a1a" stroke-width="1.1"/>
<text x="228.88" y="758.90" font-size="9.7" text-anchor="middle" fill="#222">300</text>
<line x1="266.34" y1="743.90" x2="266.34" y2="747.30" stroke="#1a1a1a" stroke-width="1.1"/>
<text x="266.34" y="758.90" font-size="9.7" text-anchor="middle" fill="#222">400</text>
<line x1="303.80" y1="743.90" x2="303.80" y2="747.30" stroke="#1a1a1a" stroke-width="1.1"/>
<text x="303.80" y="758.90" font-size="9.7" text-anchor="middle" fill="#222">500</text>
<text x="213.50" y="772.50" font-size="11.6" text-anchor="middle" fill="#111">Time (minutes)</text>
<text transform="translate(66.30,695.20) rotate(-90)" font-size="11.7" text-anchor="middle" fill="#111">Concentration</text>
<text transform="translate(83.10,694.90) rotate(-90)" font-size="11.9" text-anchor="middle" fill="#111">(pmol/10<tspan font-size="8.4" dy="-5.0">4</tspan><tspan dy="5.0">cells)</tspan></text>
<text x="212.10" y="633.0" font-size="11.7" text-anchor="middle" fill="#111"><tspan font-size="7.0" dy="-4.6">13</tspan><tspan dy="4.6">C</tspan><tspan font-size="7.0" dy="0.8">6</tspan><tspan dy="-0.8">-glucose</tspan></text>
<polyline points="116.50,743.90 118.37,673.57 122.12,738.71 127.74,737.51 138.98,736.71 161.45,735.11 206.40,734.55 296.31,734.95" fill="none" stroke="#1f1ff2" stroke-width="1.45" stroke-linejoin="round"/>
<line x1="118.37" y1="662.38" x2="118.37" y2="685.56" stroke="#1f1ff2" stroke-width="1.25"/>
<line x1="115.97" y1="685.56" x2="120.77" y2="685.56" stroke="#1f1ff2" stroke-width="1.25"/>
<line x1="115.97" y1="662.38" x2="120.77" y2="662.38" stroke="#1f1ff2" stroke-width="1.25"/>
<circle cx="116.50" cy="743.90" r="2.6" fill="#1f1ff2"/>
<circle cx="118.37" cy="673.57" r="2.6" fill="#1f1ff2"/>
<circle cx="122.12" cy="738.71" r="2.6" fill="#1f1ff2"/>
<circle cx="127.74" cy="737.51" r="2.6" fill="#1f1ff2"/>
<circle cx="138.98" cy="736.71" r="2.6" fill="#1f1ff2"/>
<circle cx="161.45" cy="735.11" r="2.6" fill="#1f1ff2"/>
<circle cx="206.40" cy="734.55" r="2.6" fill="#1f1ff2"/>
<circle cx="296.31" cy="734.95" r="2.6" fill="#1f1ff2"/>
<line x1="403.40" y1="648.00" x2="403.40" y2="744.30" stroke="#1a1a1a" stroke-width="1.1"/>
<line x1="403.00" y1="743.90" x2="591.10" y2="743.90" stroke="#1a1a1a" stroke-width="1.1"/>
<line x1="400.10" y1="743.90" x2="403.40" y2="743.90" stroke="#1a1a1a" stroke-width="1.1"/>
<text x="398.80" y="747.20" font-size="9.7" text-anchor="end" fill="#222">0</text>
<line x1="400.10" y1="719.92" x2="403.40" y2="719.92" stroke="#1a1a1a" stroke-width="1.1"/>
<text x="398.80" y="723.22" font-size="9.7" text-anchor="end" fill="#222">60</text>
<line x1="400.10" y1="695.95" x2="403.40" y2="695.95" stroke="#1a1a1a" stroke-width="1.1"/>
<text x="398.80" y="699.25" font-size="9.7" text-anchor="end" fill="#222">120</text>
<line x1="400.10" y1="671.98" x2="403.40" y2="671.98" stroke="#1a1a1a" stroke-width="1.1"/>
<text x="398.80" y="675.27" font-size="9.7" text-anchor="end" fill="#222">180</text>
<line x1="400.10" y1="648.00" x2="403.40" y2="648.00" stroke="#1a1a1a" stroke-width="1.1"/>
<text x="398.80" y="651.30" font-size="9.7" text-anchor="end" fill="#222">240</text>
<line x1="403.40" y1="743.90" x2="403.40" y2="747.30" stroke="#1a1a1a" stroke-width="1.1"/>
<text x="403.40" y="758.90" font-size="9.7" text-anchor="middle" fill="#222">0</text>
<line x1="440.86" y1="743.90" x2="440.86" y2="747.30" stroke="#1a1a1a" stroke-width="1.1"/>
<text x="440.86" y="758.90" font-size="9.7" text-anchor="middle" fill="#222">100</text>
<line x1="478.32" y1="743.90" x2="478.32" y2="747.30" stroke="#1a1a1a" stroke-width="1.1"/>
<text x="478.32" y="758.90" font-size="9.7" text-anchor="middle" fill="#222">200</text>
<line x1="515.78" y1="743.90" x2="515.78" y2="747.30" stroke="#1a1a1a" stroke-width="1.1"/>
<text x="515.78" y="758.90" font-size="9.7" text-anchor="middle" fill="#222">300</text>
<line x1="553.24" y1="743.90" x2="553.24" y2="747.30" stroke="#1a1a1a" stroke-width="1.1"/>
<text x="553.24" y="758.90" font-size="9.7" text-anchor="middle" fill="#222">400</text>
<line x1="590.70" y1="743.90" x2="590.70" y2="747.30" stroke="#1a1a1a" stroke-width="1.1"/>
<text x="590.70" y="758.90" font-size="9.7" text-anchor="middle" fill="#222">500</text>
<text x="496.80" y="772.50" font-size="11.6" text-anchor="middle" fill="#111">Time (minutes)</text>
<text transform="translate(355.00,701.70) rotate(-90)" font-size="11.7" text-anchor="middle" fill="#111">Concentration</text>
<text transform="translate(371.80,701.40) rotate(-90)" font-size="11.9" text-anchor="middle" fill="#111">(pmol/10<tspan font-size="8.4" dy="-5.0">4</tspan><tspan dy="5.0">cells)</tspan></text>
<text x="499.00" y="633.0" font-size="11.7" text-anchor="middle" fill="#111"><tspan font-size="7.0" dy="-4.6">13</tspan><tspan dy="4.6">C</tspan><tspan font-size="7.0" dy="0.8">6</tspan><tspan dy="-0.8">-fructose</tspan></text>
<polyline points="403.40,743.90 405.27,743.30 409.02,741.10 414.64,735.51 425.88,723.92 448.35,700.75 493.30,676.77 583.21,666.38" fill="none" stroke="#f81e1e" stroke-width="1.45" stroke-linejoin="round"/>
<line x1="493.30" y1="671.18" x2="493.30" y2="681.96" stroke="#f81e1e" stroke-width="1.25"/>
<line x1="490.90" y1="681.96" x2="495.70" y2="681.96" stroke="#f81e1e" stroke-width="1.25"/>
<line x1="490.90" y1="671.18" x2="495.70" y2="671.18" stroke="#f81e1e" stroke-width="1.25"/>
<line x1="583.21" y1="661.19" x2="583.21" y2="671.58" stroke="#f81e1e" stroke-width="1.25"/>
<line x1="580.81" y1="671.58" x2="585.61" y2="671.58" stroke="#f81e1e" stroke-width="1.25"/>
<line x1="580.81" y1="661.19" x2="585.61" y2="661.19" stroke="#f81e1e" stroke-width="1.25"/>
<circle cx="403.40" cy="743.90" r="2.6" fill="#f81e1e"/>
<circle cx="405.27" cy="743.30" r="2.6" fill="#f81e1e"/>
<circle cx="409.02" cy="741.10" r="2.6" fill="#f81e1e"/>
<circle cx="414.64" cy="735.51" r="2.6" fill="#f81e1e"/>
<circle cx="425.88" cy="723.92" r="2.6" fill="#f81e1e"/>
<circle cx="448.35" cy="700.75" r="2.6" fill="#f81e1e"/>
<circle cx="493.30" cy="676.77" r="2.6" fill="#f81e1e"/>
<circle cx="583.21" cy="666.38" r="2.6" fill="#f81e1e"/>
</g>
</svg>
</body></html>
